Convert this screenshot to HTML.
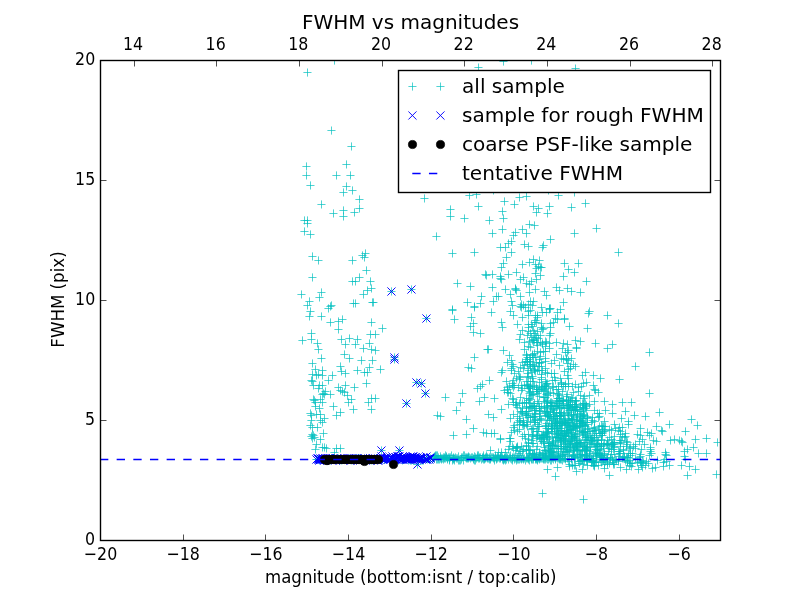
<!DOCTYPE html>
<html lang="en"><head><meta charset="utf-8"><title>FWHM vs magnitudes</title>
<style>html,body{margin:0;padding:0;background:#fff;overflow:hidden}svg{display:block}text{font-family:"DejaVu Sans","Liberation Sans",sans-serif;fill:#000}.t{font-size:16.67px}.l{font-size:20px}.c{stroke:#00bfbf;stroke-width:.69;fill:none}.b{stroke:#0000ff;stroke-width:.95;fill:none}.k{fill:#000;stroke:#000;stroke-width:.7}.tk{stroke:#000;stroke-width:.69;fill:none}</style></head><body>
<svg width="800" height="600" viewBox="0 0 800 600">
<rect width="800" height="600" fill="#fff"/>
<defs><clipPath id="ax"><rect x="100" y="60" width="621" height="481"/></clipPath></defs>
<g clip-path="url(#ax)">
<path class="c" d="M297.4 294.5h8.10M301.5 290.4v8.10M298.4 340.5h8.10M302.5 336.4v8.10M300.4 220.5h8.10M304.5 216.4v8.10M300.4 231.5h8.10M304.5 227.4v8.10M302.4 166.5h8.10M306.5 162.4v8.10M302.4 175.5h8.10M306.5 171.4v8.10M303.4 72.5h8.10M307.5 68.5v8.10M303.4 220.5h8.10M307.5 216.4v8.10M303.4 223.5h8.10M307.5 219.4v8.10M303.4 305.5h8.10M307.5 301.4v8.10M305.4 301.5h8.10M309.5 297.4v8.10M305.4 316.5h8.10M309.5 312.4v8.10M306.4 185.5h8.10M310.5 181.4v8.10M306.4 234.5h8.10M310.5 230.4v8.10M306.4 311.5h8.10M310.5 307.4v8.10M306.4 413.5h8.10M310.5 409.4v8.10M306.4 425.5h8.10M310.5 421.4v8.10M307.4 333.5h8.10M311.5 329.4v8.10M307.4 339.5h8.10M311.5 335.4v8.10M307.4 380.5h8.10M311.5 376.4v8.10M307.4 415.5h8.10M311.5 411.4v8.10M307.4 420.5h8.10M311.5 416.4v8.10M307.4 436.5h8.10M311.5 432.4v8.10M308.4 256.5h8.10M312.5 252.4v8.10M308.4 277.5h8.10M312.5 273.4v8.10M308.4 363.5h8.10M312.5 359.4v8.10M308.4 374.5h8.10M312.5 370.4v8.10M308.4 381.5h8.10M312.5 377.4v8.10M308.4 427.5h8.10M312.5 423.4v8.10M308.4 434.5h8.10M312.5 430.4v8.10M308.4 438.5h8.10M312.5 434.4v8.10M309.4 385.5h8.10M313.5 381.4v8.10M309.4 399.5h8.10M313.5 395.4v8.10M309.4 435.5h8.10M313.5 431.4v8.10M310.4 400.5h8.10M314.5 396.4v8.10M310.4 437.5h8.10M314.5 433.4v8.10M311.4 369.5h8.10M315.5 365.4v8.10M311.4 402.5h8.10M315.5 398.4v8.10M311.4 406.5h8.10M315.5 402.4v8.10M311.4 449.5h8.10M315.5 445.4v8.10M312.4 375.5h8.10M316.5 371.4v8.10M312.4 414.5h8.10M316.5 410.4v8.10M312.4 444.5h8.10M316.5 440.4v8.10M312.4 459.5h8.10M316.5 455.4v8.10M313.4 343.5h8.10M317.5 339.4v8.10M313.4 427.5h8.10M317.5 423.4v8.10M313.4 459.5h8.10M317.5 455.4v8.10M314.4 260.5h8.10M318.5 256.4v8.10M314.4 349.5h8.10M318.5 345.4v8.10M314.4 374.5h8.10M318.5 370.4v8.10M314.4 388.5h8.10M318.5 384.4v8.10M315.4 297.5h8.10M319.5 293.4v8.10M315.4 385.5h8.10M319.5 381.4v8.10M315.4 408.5h8.10M319.5 404.4v8.10M315.4 460.5h8.10M319.5 456.4v8.10M316.4 399.5h8.10M320.5 395.4v8.10M316.4 414.5h8.10M320.5 410.4v8.10M316.4 420.5h8.10M320.5 416.4v8.10M316.4 439.5h8.10M320.5 435.4v8.10M316.4 459.5h8.10M320.5 455.4v8.10M317.4 204.5h8.10M321.5 200.4v8.10M317.4 292.5h8.10M321.5 288.4v8.10M317.4 316.5h8.10M321.5 312.4v8.10M317.4 358.5h8.10M321.5 354.4v8.10M317.4 459.5h8.10M321.5 455.4v8.10M318.4 370.5h8.10M322.5 366.4v8.10M318.4 375.5h8.10M322.5 371.4v8.10M318.4 385.5h8.10M322.5 381.4v8.10M318.4 394.5h8.10M322.5 390.4v8.10M318.4 402.5h8.10M322.5 398.4v8.10M318.4 422.5h8.10M322.5 418.4v8.10M318.4 447.5h8.10M322.5 443.4v8.10M319.4 393.5h8.10M323.5 389.4v8.10M319.4 433.5h8.10M323.5 429.4v8.10M319.4 459.5h8.10M323.5 455.4v8.10M320.4 394.5h8.10M324.5 390.4v8.10M320.4 418.5h8.10M324.5 414.4v8.10M320.4 447.5h8.10M324.5 443.4v8.10M320.4 459.5h8.10M324.5 455.4v8.10M321.4 391.5h8.10M325.5 387.4v8.10M322.4 448.5h8.10M326.5 444.4v8.10M322.4 459.5h8.10M326.5 455.4v8.10M323.4 459.5h8.10M327.5 455.4v8.10M324.4 308.5h8.10M328.5 304.4v8.10M324.4 380.5h8.10M328.5 376.4v8.10M325.4 459.5h8.10M329.5 455.4v8.10M326.4 306.5h8.10M330.5 302.4v8.10M326.4 322.5h8.10M330.5 318.4v8.10M326.4 394.5h8.10M330.5 390.4v8.10M326.4 460.5h8.10M330.5 456.4v8.10M327.4 130.5h8.10M331.5 126.5v8.10M327.4 305.5h8.10M331.5 301.4v8.10M327.4 458.5h8.10M331.5 454.4v8.10M328.4 375.5h8.10M332.5 371.4v8.10M328.4 458.5h8.10M332.5 454.4v8.10M329.4 213.5h8.10M333.5 209.4v8.10M329.4 406.5h8.10M333.5 402.4v8.10M329.4 458.5h8.10M333.5 454.4v8.10M330.4 60.5h8.10M334.5 56.5v8.10M330.4 452.5h8.10M334.5 448.4v8.10M330.4 459.5h8.10M334.5 455.4v8.10M332.4 175.5h8.10M336.5 171.4v8.10M332.4 415.5h8.10M336.5 411.4v8.10M332.4 448.5h8.10M336.5 444.4v8.10M332.4 459.5h8.10M336.5 455.4v8.10M333.4 458.5h8.10M337.5 454.4v8.10M334.4 321.5h8.10M338.5 317.4v8.10M334.4 329.5h8.10M338.5 325.4v8.10M334.4 387.5h8.10M338.5 383.4v8.10M334.4 458.5h8.10M338.5 454.4v8.10M335.4 460.5h8.10M339.5 456.4v8.10M336.4 366.5h8.10M340.5 362.4v8.10M336.4 390.5h8.10M340.5 386.4v8.10M336.4 412.5h8.10M340.5 408.4v8.10M336.4 448.5h8.10M340.5 444.4v8.10M337.4 339.5h8.10M341.5 335.4v8.10M337.4 371.5h8.10M341.5 367.4v8.10M337.4 460.5h8.10M341.5 456.4v8.10M338.4 319.5h8.10M342.5 315.4v8.10M338.4 391.5h8.10M342.5 387.4v8.10M339.4 192.5h8.10M343.5 188.4v8.10M339.4 210.5h8.10M343.5 206.4v8.10M339.4 216.5h8.10M343.5 212.4v8.10M339.4 459.5h8.10M343.5 455.4v8.10M340.4 354.5h8.10M344.5 350.4v8.10M340.4 392.5h8.10M344.5 388.4v8.10M341.4 344.5h8.10M345.5 340.4v8.10M341.4 373.5h8.10M345.5 369.4v8.10M341.4 385.5h8.10M345.5 381.4v8.10M341.4 459.5h8.10M345.5 455.4v8.10M342.4 164.5h8.10M346.5 160.4v8.10M342.4 186.5h8.10M346.5 182.4v8.10M342.4 459.5h8.10M346.5 455.4v8.10M343.4 395.5h8.10M347.5 391.4v8.10M343.4 459.5h8.10M347.5 455.4v8.10M344.4 402.5h8.10M348.5 398.4v8.10M345.4 338.5h8.10M349.5 334.4v8.10M345.4 358.5h8.10M349.5 354.4v8.10M345.4 458.5h8.10M349.5 454.4v8.10M346.4 175.5h8.10M350.5 171.4v8.10M347.4 146.5h8.10M351.5 142.4v8.10M347.4 399.5h8.10M351.5 395.4v8.10M347.4 460.5h8.10M351.5 456.4v8.10M348.4 190.5h8.10M352.5 186.4v8.10M348.4 260.5h8.10M352.5 256.4v8.10M348.4 281.5h8.10M352.5 277.4v8.10M348.4 459.5h8.10M352.5 455.4v8.10M349.4 303.5h8.10M353.5 299.4v8.10M349.4 409.5h8.10M353.5 405.4v8.10M350.4 212.5h8.10M354.5 208.4v8.10M350.4 387.5h8.10M354.5 383.4v8.10M350.4 459.5h8.10M354.5 455.4v8.10M351.4 281.5h8.10M355.5 277.4v8.10M351.4 303.5h8.10M355.5 299.4v8.10M351.4 344.5h8.10M355.5 340.4v8.10M351.4 458.5h8.10M355.5 454.4v8.10M353.4 339.5h8.10M357.5 335.4v8.10M353.4 370.5h8.10M357.5 366.4v8.10M353.4 458.5h8.10M357.5 454.4v8.10M355.4 199.5h8.10M359.5 195.4v8.10M355.4 208.5h8.10M359.5 204.4v8.10M355.4 277.5h8.10M359.5 273.4v8.10M355.4 458.5h8.10M359.5 454.4v8.10M356.4 459.5h8.10M360.5 455.4v8.10M357.4 360.5h8.10M361.5 356.4v8.10M357.4 458.5h8.10M361.5 454.4v8.10M358.4 255.5h8.10M362.5 251.4v8.10M359.4 294.5h8.10M363.5 290.4v8.10M359.4 348.5h8.10M363.5 344.4v8.10M359.4 459.5h8.10M363.5 455.4v8.10M360.4 257.5h8.10M364.5 253.4v8.10M360.4 372.5h8.10M364.5 368.4v8.10M360.4 459.5h8.10M364.5 455.4v8.10M361.4 253.5h8.10M365.5 249.4v8.10M362.4 270.5h8.10M366.5 266.4v8.10M362.4 383.5h8.10M366.5 379.4v8.10M362.4 458.5h8.10M366.5 454.4v8.10M363.4 290.5h8.10M367.5 286.4v8.10M363.4 372.5h8.10M367.5 368.4v8.10M363.4 460.5h8.10M367.5 456.4v8.10M364.4 402.5h8.10M368.5 398.4v8.10M365.4 343.5h8.10M369.5 339.4v8.10M365.4 367.5h8.10M369.5 363.4v8.10M365.4 459.5h8.10M369.5 455.4v8.10M366.4 281.5h8.10M370.5 277.4v8.10M366.4 334.5h8.10M370.5 330.4v8.10M366.4 459.5h8.10M370.5 455.4v8.10M367.4 288.5h8.10M371.5 284.4v8.10M367.4 322.5h8.10M371.5 318.4v8.10M367.4 349.5h8.10M371.5 345.4v8.10M367.4 398.5h8.10M371.5 394.4v8.10M367.4 409.5h8.10M371.5 405.4v8.10M367.4 460.5h8.10M371.5 456.4v8.10M368.4 302.5h8.10M372.5 298.4v8.10M368.4 360.5h8.10M372.5 356.4v8.10M369.4 302.5h8.10M373.5 298.4v8.10M369.4 459.5h8.10M373.5 455.4v8.10M370.4 459.5h8.10M374.5 455.4v8.10M371.4 334.5h8.10M375.5 330.4v8.10M371.4 350.5h8.10M375.5 346.4v8.10M371.4 398.5h8.10M375.5 394.4v8.10M372.4 458.5h8.10M376.5 454.4v8.10M374.4 459.5h8.10M378.5 455.4v8.10M376.4 369.5h8.10M380.5 365.4v8.10M376.4 459.5h8.10M380.5 455.4v8.10M377.4 450.5h8.10M381.5 446.4v8.10M378.4 328.5h8.10M382.5 324.4v8.10M378.4 459.5h8.10M382.5 455.4v8.10M380.4 459.5h8.10M384.5 455.4v8.10M381.4 459.5h8.10M385.5 455.4v8.10M383.4 458.5h8.10M387.5 454.4v8.10M385.4 458.5h8.10M389.5 454.4v8.10M387.4 291.5h8.10M391.5 287.4v8.10M387.4 459.5h8.10M391.5 455.4v8.10M388.4 459.5h8.10M392.5 455.4v8.10M390.4 357.5h8.10M394.5 353.4v8.10M390.4 359.5h8.10M394.5 355.4v8.10M390.4 458.5h8.10M394.5 454.4v8.10M391.4 460.5h8.10M395.5 456.4v8.10M392.4 460.5h8.10M396.5 456.4v8.10M394.4 460.5h8.10M398.5 456.4v8.10M395.4 450.5h8.10M399.5 446.4v8.10M396.4 458.5h8.10M400.5 454.4v8.10M398.4 460.5h8.10M402.5 456.4v8.10M399.4 459.5h8.10M403.5 455.4v8.10M400.4 459.5h8.10M404.5 455.4v8.10M402.4 403.5h8.10M406.5 399.4v8.10M402.4 459.5h8.10M406.5 455.4v8.10M404.4 460.5h8.10M408.5 456.4v8.10M405.4 458.5h8.10M409.5 454.4v8.10M406.4 460.5h8.10M410.5 456.4v8.10M407.4 289.5h8.10M411.5 285.4v8.10M407.4 460.5h8.10M411.5 456.4v8.10M409.4 460.5h8.10M413.5 456.4v8.10M411.4 458.5h8.10M415.5 454.4v8.10M412.4 382.5h8.10M416.5 378.4v8.10M413.4 459.5h8.10M417.5 455.4v8.10M413.4 464.5h8.10M417.5 460.4v8.10M414.4 460.5h8.10M418.5 456.4v8.10M416.4 459.5h8.10M420.5 455.4v8.10M417.4 383.5h8.10M421.5 379.4v8.10M418.4 460.5h8.10M422.5 456.4v8.10M419.4 460.5h8.10M423.5 456.4v8.10M420.4 198.5h8.10M424.5 194.4v8.10M420.4 458.5h8.10M424.5 454.4v8.10M421.4 393.5h8.10M425.5 389.4v8.10M422.4 318.5h8.10M426.5 314.4v8.10M422.4 458.5h8.10M426.5 454.4v8.10M423.4 459.5h8.10M427.5 455.4v8.10M425.4 459.5h8.10M429.5 455.4v8.10M426.4 458.5h8.10M430.5 454.4v8.10M428.4 459.5h8.10M432.5 455.4v8.10M429.4 457.5h8.10M433.5 453.4v8.10M430.4 456.5h8.10M434.5 452.4v8.10M430.4 458.5h8.10M434.5 454.4v8.10M431.4 455.5h8.10M435.5 451.4v8.10M431.4 456.5h8.10M435.5 452.4v8.10M432.4 236.5h8.10M436.5 232.4v8.10M432.4 455.5h8.10M436.5 451.4v8.10M432.4 459.5h8.10M436.5 455.4v8.10M433.4 415.5h8.10M437.5 411.4v8.10M433.4 455.5h8.10M437.5 451.4v8.10M433.4 459.5h8.10M437.5 455.4v8.10M434.4 457.5h8.10M438.5 453.4v8.10M434.4 459.5h8.10M438.5 455.4v8.10M435.4 459.5h8.10M439.5 455.4v8.10M436.4 416.5h8.10M440.5 412.4v8.10M436.4 456.5h8.10M440.5 452.4v8.10M436.4 458.5h8.10M440.5 454.4v8.10M437.4 458.5h8.10M441.5 454.4v8.10M437.4 459.5h8.10M441.5 455.4v8.10M438.4 458.5h8.10M442.5 454.4v8.10M439.4 457.5h8.10M443.5 453.4v8.10M439.4 459.5h8.10M443.5 455.4v8.10M440.4 457.5h8.10M444.5 453.4v8.10M440.4 458.5h8.10M444.5 454.4v8.10M441.4 397.5h8.10M445.5 393.4v8.10M441.4 455.5h8.10M445.5 451.4v8.10M441.4 458.5h8.10M445.5 454.4v8.10M442.4 456.5h8.10M446.5 452.4v8.10M442.4 457.5h8.10M446.5 453.4v8.10M443.4 458.5h8.10M447.5 454.4v8.10M443.4 459.5h8.10M447.5 455.4v8.10M444.4 457.5h8.10M448.5 453.4v8.10M445.4 457.5h8.10M449.5 453.4v8.10M445.4 459.5h8.10M449.5 455.4v8.10M445.4 460.5h8.10M449.5 456.4v8.10M446.4 209.5h8.10M450.5 205.4v8.10M446.4 216.5h8.10M450.5 212.4v8.10M446.4 457.5h8.10M450.5 453.4v8.10M447.4 455.5h8.10M451.5 451.4v8.10M448.4 253.5h8.10M452.5 249.4v8.10M448.4 309.5h8.10M452.5 305.4v8.10M448.4 310.5h8.10M452.5 306.4v8.10M448.4 458.5h8.10M452.5 454.4v8.10M448.4 460.5h8.10M452.5 456.4v8.10M449.4 435.5h8.10M453.5 431.4v8.10M449.4 457.5h8.10M453.5 453.4v8.10M449.4 458.5h8.10M453.5 454.4v8.10M449.4 459.5h8.10M453.5 455.4v8.10M450.4 319.5h8.10M454.5 315.4v8.10M450.4 458.5h8.10M454.5 454.4v8.10M450.4 460.5h8.10M454.5 456.4v8.10M451.4 457.5h8.10M455.5 453.4v8.10M452.4 410.5h8.10M456.5 406.4v8.10M452.4 458.5h8.10M456.5 454.4v8.10M453.4 283.5h8.10M457.5 279.4v8.10M453.4 458.5h8.10M457.5 454.4v8.10M454.4 456.5h8.10M458.5 452.4v8.10M454.4 460.5h8.10M458.5 456.4v8.10M455.4 460.5h8.10M459.5 456.4v8.10M456.4 402.5h8.10M460.5 398.4v8.10M456.4 460.5h8.10M460.5 456.4v8.10M457.4 457.5h8.10M461.5 453.4v8.10M457.4 459.5h8.10M461.5 455.4v8.10M458.4 393.5h8.10M462.5 389.4v8.10M458.4 457.5h8.10M462.5 453.4v8.10M459.4 455.5h8.10M463.5 451.4v8.10M459.4 460.5h8.10M463.5 456.4v8.10M460.4 218.5h8.10M464.5 214.4v8.10M460.4 455.5h8.10M464.5 451.4v8.10M461.4 457.5h8.10M465.5 453.4v8.10M462.4 419.5h8.10M466.5 415.4v8.10M462.4 434.5h8.10M466.5 430.4v8.10M462.4 457.5h8.10M466.5 453.4v8.10M462.4 458.5h8.10M466.5 454.4v8.10M463.4 302.5h8.10M467.5 298.4v8.10M463.4 457.5h8.10M467.5 453.4v8.10M463.4 458.5h8.10M467.5 454.4v8.10M464.4 367.5h8.10M468.5 363.4v8.10M464.4 456.5h8.10M468.5 452.4v8.10M464.4 457.5h8.10M468.5 453.4v8.10M464.4 458.5h8.10M468.5 454.4v8.10M465.4 195.5h8.10M469.5 191.4v8.10M465.4 457.5h8.10M469.5 453.4v8.10M466.4 286.5h8.10M470.5 282.4v8.10M466.4 326.5h8.10M470.5 322.4v8.10M466.4 458.5h8.10M470.5 454.4v8.10M467.4 317.5h8.10M471.5 313.4v8.10M467.4 368.5h8.10M471.5 364.4v8.10M467.4 457.5h8.10M471.5 453.4v8.10M468.4 457.5h8.10M472.5 453.4v8.10M469.4 323.5h8.10M473.5 319.4v8.10M469.4 332.5h8.10M473.5 328.4v8.10M469.4 428.5h8.10M473.5 424.4v8.10M469.4 458.5h8.10M473.5 454.4v8.10M469.4 459.5h8.10M473.5 455.4v8.10M470.4 252.5h8.10M474.5 248.4v8.10M470.4 306.5h8.10M474.5 302.4v8.10M470.4 307.5h8.10M474.5 303.4v8.10M470.4 357.5h8.10M474.5 353.4v8.10M470.4 456.5h8.10M474.5 452.4v8.10M470.4 460.5h8.10M474.5 456.4v8.10M471.4 457.5h8.10M475.5 453.4v8.10M471.4 460.5h8.10M475.5 456.4v8.10M472.4 194.5h8.10M476.5 190.4v8.10M472.4 458.5h8.10M476.5 454.4v8.10M473.4 388.5h8.10M477.5 384.4v8.10M473.4 455.5h8.10M477.5 451.4v8.10M473.4 457.5h8.10M477.5 453.4v8.10M474.4 67.5h8.10M478.5 63.5v8.10M474.4 206.5h8.10M478.5 202.4v8.10M474.4 455.5h8.10M478.5 451.4v8.10M474.4 458.5h8.10M478.5 454.4v8.10M475.4 401.5h8.10M479.5 397.4v8.10M475.4 457.5h8.10M479.5 453.4v8.10M475.4 458.5h8.10M479.5 454.4v8.10M476.4 303.5h8.10M480.5 299.4v8.10M476.4 333.5h8.10M480.5 329.4v8.10M476.4 386.5h8.10M480.5 382.4v8.10M476.4 457.5h8.10M480.5 453.4v8.10M477.4 296.5h8.10M481.5 292.4v8.10M477.4 459.5h8.10M481.5 455.4v8.10M478.4 384.5h8.10M482.5 380.4v8.10M478.4 457.5h8.10M482.5 453.4v8.10M478.4 458.5h8.10M482.5 454.4v8.10M479.4 432.5h8.10M483.5 428.4v8.10M479.4 455.5h8.10M483.5 451.4v8.10M479.4 457.5h8.10M483.5 453.4v8.10M479.4 459.5h8.10M483.5 455.4v8.10M480.4 397.5h8.10M484.5 393.4v8.10M480.4 458.5h8.10M484.5 454.4v8.10M480.4 459.5h8.10M484.5 455.4v8.10M481.4 274.5h8.10M485.5 270.4v8.10M481.4 457.5h8.10M485.5 453.4v8.10M481.4 458.5h8.10M485.5 454.4v8.10M482.4 275.5h8.10M486.5 271.4v8.10M482.4 433.5h8.10M486.5 429.4v8.10M482.4 455.5h8.10M486.5 451.4v8.10M482.4 457.5h8.10M486.5 453.4v8.10M483.4 349.5h8.10M487.5 345.4v8.10M483.4 457.5h8.10M487.5 453.4v8.10M483.4 458.5h8.10M487.5 454.4v8.10M484.4 349.5h8.10M488.5 345.4v8.10M484.4 414.5h8.10M488.5 410.4v8.10M484.4 458.5h8.10M488.5 454.4v8.10M485.4 220.5h8.10M489.5 216.4v8.10M485.4 380.5h8.10M489.5 376.4v8.10M485.4 457.5h8.10M489.5 453.4v8.10M485.4 459.5h8.10M489.5 455.4v8.10M486.4 450.5h8.10M490.5 446.4v8.10M486.4 458.5h8.10M490.5 454.4v8.10M486.4 459.5h8.10M490.5 455.4v8.10M487.4 312.5h8.10M491.5 308.4v8.10M487.4 433.5h8.10M491.5 429.4v8.10M487.4 457.5h8.10M491.5 453.4v8.10M488.4 233.5h8.10M492.5 229.4v8.10M488.4 274.5h8.10M492.5 270.4v8.10M488.4 287.5h8.10M492.5 283.4v8.10M488.4 457.5h8.10M492.5 453.4v8.10M489.4 190.5h8.10M493.5 186.4v8.10M489.4 301.5h8.10M493.5 297.4v8.10M489.4 417.5h8.10M493.5 413.4v8.10M489.4 457.5h8.10M493.5 453.4v8.10M489.4 458.5h8.10M493.5 454.4v8.10M490.4 398.5h8.10M494.5 394.4v8.10M490.4 433.5h8.10M494.5 429.4v8.10M490.4 458.5h8.10M494.5 454.4v8.10M490.4 460.5h8.10M494.5 456.4v8.10M491.4 455.5h8.10M495.5 451.4v8.10M491.4 457.5h8.10M495.5 453.4v8.10M492.4 296.5h8.10M496.5 292.4v8.10M492.4 458.5h8.10M496.5 454.4v8.10M492.4 459.5h8.10M496.5 455.4v8.10M493.4 456.5h8.10M497.5 452.4v8.10M493.4 458.5h8.10M497.5 454.4v8.10M494.4 296.5h8.10M498.5 292.4v8.10M494.4 452.5h8.10M498.5 448.4v8.10M494.4 457.5h8.10M498.5 453.4v8.10M495.4 458.5h8.10M499.5 454.4v8.10M496.4 247.5h8.10M500.5 243.4v8.10M496.4 276.5h8.10M500.5 272.4v8.10M496.4 278.5h8.10M500.5 274.4v8.10M496.4 438.5h8.10M500.5 434.4v8.10M496.4 439.5h8.10M500.5 435.4v8.10M496.4 456.5h8.10M500.5 452.4v8.10M496.4 457.5h8.10M500.5 453.4v8.10M496.4 458.5h8.10M500.5 454.4v8.10M497.4 267.5h8.10M501.5 263.4v8.10M497.4 279.5h8.10M501.5 275.4v8.10M497.4 322.5h8.10M501.5 318.4v8.10M497.4 372.5h8.10M501.5 368.4v8.10M497.4 409.5h8.10M501.5 405.4v8.10M497.4 452.5h8.10M501.5 448.4v8.10M497.4 455.5h8.10M501.5 451.4v8.10M498.4 211.5h8.10M502.5 207.4v8.10M498.4 229.5h8.10M502.5 225.4v8.10M498.4 327.5h8.10M502.5 323.4v8.10M498.4 370.5h8.10M502.5 366.4v8.10M498.4 457.5h8.10M502.5 453.4v8.10M498.4 459.5h8.10M502.5 455.4v8.10M499.4 61.5h8.10M503.5 57.5v8.10M499.4 218.5h8.10M503.5 214.4v8.10M499.4 263.5h8.10M503.5 259.4v8.10M499.4 350.5h8.10M503.5 346.4v8.10M499.4 459.5h8.10M503.5 455.4v8.10M499.4 460.5h8.10M503.5 456.4v8.10M500.4 201.5h8.10M504.5 197.4v8.10M500.4 390.5h8.10M504.5 386.4v8.10M500.4 457.5h8.10M504.5 453.4v8.10M500.4 458.5h8.10M504.5 454.4v8.10M500.4 459.5h8.10M504.5 455.4v8.10M501.4 247.5h8.10M505.5 243.4v8.10M501.4 289.5h8.10M505.5 285.4v8.10M501.4 452.5h8.10M505.5 448.4v8.10M501.4 458.5h8.10M505.5 454.4v8.10M501.4 460.5h8.10M505.5 456.4v8.10M502.4 257.5h8.10M506.5 253.4v8.10M502.4 381.5h8.10M506.5 377.4v8.10M502.4 456.5h8.10M506.5 452.4v8.10M502.4 459.5h8.10M506.5 455.4v8.10M503.4 362.5h8.10M507.5 358.4v8.10M503.4 387.5h8.10M507.5 383.4v8.10M503.4 389.5h8.10M507.5 385.4v8.10M503.4 392.5h8.10M507.5 388.4v8.10M503.4 457.5h8.10M507.5 453.4v8.10M504.4 243.5h8.10M508.5 239.4v8.10M504.4 274.5h8.10M508.5 270.4v8.10M504.4 392.5h8.10M508.5 388.4v8.10M504.4 404.5h8.10M508.5 400.4v8.10M504.4 449.5h8.10M508.5 445.4v8.10M504.4 459.5h8.10M508.5 455.4v8.10M505.4 355.5h8.10M509.5 351.4v8.10M505.4 386.5h8.10M509.5 382.4v8.10M505.4 438.5h8.10M509.5 434.4v8.10M505.4 446.5h8.10M509.5 442.4v8.10M505.4 457.5h8.10M509.5 453.4v8.10M506.4 294.5h8.10M510.5 290.4v8.10M506.4 311.5h8.10M510.5 307.4v8.10M506.4 393.5h8.10M510.5 389.4v8.10M506.4 418.5h8.10M510.5 414.4v8.10M506.4 438.5h8.10M510.5 434.4v8.10M506.4 441.5h8.10M510.5 437.4v8.10M506.4 455.5h8.10M510.5 451.4v8.10M506.4 458.5h8.10M510.5 454.4v8.10M507.4 241.5h8.10M511.5 237.4v8.10M507.4 252.5h8.10M511.5 248.4v8.10M507.4 301.5h8.10M511.5 297.4v8.10M507.4 360.5h8.10M511.5 356.4v8.10M507.4 368.5h8.10M511.5 364.4v8.10M507.4 370.5h8.10M511.5 366.4v8.10M507.4 432.5h8.10M511.5 428.4v8.10M507.4 459.5h8.10M511.5 455.4v8.10M508.4 305.5h8.10M512.5 301.4v8.10M508.4 364.5h8.10M512.5 360.4v8.10M508.4 383.5h8.10M512.5 379.4v8.10M508.4 385.5h8.10M512.5 381.4v8.10M508.4 398.5h8.10M512.5 394.4v8.10M508.4 446.5h8.10M512.5 442.4v8.10M508.4 457.5h8.10M512.5 453.4v8.10M508.4 458.5h8.10M512.5 454.4v8.10M508.4 460.5h8.10M512.5 456.4v8.10M509.4 235.5h8.10M513.5 231.4v8.10M509.4 315.5h8.10M513.5 311.4v8.10M509.4 366.5h8.10M513.5 362.4v8.10M509.4 380.5h8.10M513.5 376.4v8.10M509.4 387.5h8.10M513.5 383.4v8.10M509.4 399.5h8.10M513.5 395.4v8.10M509.4 402.5h8.10M513.5 398.4v8.10M509.4 414.5h8.10M513.5 410.4v8.10M509.4 427.5h8.10M513.5 423.4v8.10M509.4 448.5h8.10M513.5 444.4v8.10M509.4 457.5h8.10M513.5 453.4v8.10M510.4 204.5h8.10M514.5 200.4v8.10M510.4 373.5h8.10M514.5 369.4v8.10M510.4 385.5h8.10M514.5 381.4v8.10M510.4 425.5h8.10M514.5 421.4v8.10M510.4 430.5h8.10M514.5 426.4v8.10M510.4 457.5h8.10M514.5 453.4v8.10M510.4 459.5h8.10M514.5 455.4v8.10M511.4 232.5h8.10M515.5 228.4v8.10M511.4 288.5h8.10M515.5 284.4v8.10M511.4 289.5h8.10M515.5 285.4v8.10M511.4 404.5h8.10M515.5 400.4v8.10M511.4 450.5h8.10M515.5 446.4v8.10M511.4 458.5h8.10M515.5 454.4v8.10M512.5 272.5h8.10M516.5 268.4v8.10M512.5 290.5h8.10M516.5 286.4v8.10M512.5 378.5h8.10M516.5 374.4v8.10M512.5 402.5h8.10M516.5 398.4v8.10M512.5 405.5h8.10M516.5 401.4v8.10M512.5 447.5h8.10M516.5 443.4v8.10M512.5 448.5h8.10M516.5 444.4v8.10M512.5 458.5h8.10M516.5 454.4v8.10M512.5 460.5h8.10M516.5 456.4v8.10M513.5 324.5h8.10M517.5 320.4v8.10M513.5 407.5h8.10M517.5 403.4v8.10M513.5 416.5h8.10M517.5 412.4v8.10M513.5 422.5h8.10M517.5 418.4v8.10M513.5 431.5h8.10M517.5 427.4v8.10M513.5 446.5h8.10M517.5 442.4v8.10M513.5 447.5h8.10M517.5 443.4v8.10M513.5 457.5h8.10M517.5 453.4v8.10M513.5 459.5h8.10M517.5 455.4v8.10M514.5 371.5h8.10M518.5 367.4v8.10M514.5 387.5h8.10M518.5 383.4v8.10M514.5 455.5h8.10M518.5 451.4v8.10M514.5 459.5h8.10M518.5 455.4v8.10M515.5 197.5h8.10M519.5 193.4v8.10M515.5 339.5h8.10M519.5 335.4v8.10M515.5 376.5h8.10M519.5 372.4v8.10M515.5 379.5h8.10M519.5 375.4v8.10M515.5 403.5h8.10M519.5 399.4v8.10M515.5 418.5h8.10M519.5 414.4v8.10M515.5 420.5h8.10M519.5 416.4v8.10M515.5 424.5h8.10M519.5 420.4v8.10M515.5 429.5h8.10M519.5 425.4v8.10M515.5 453.5h8.10M519.5 449.4v8.10M515.5 459.5h8.10M519.5 455.4v8.10M516.5 279.5h8.10M520.5 275.4v8.10M516.5 296.5h8.10M520.5 292.4v8.10M516.5 306.5h8.10M520.5 302.4v8.10M516.5 334.5h8.10M520.5 330.4v8.10M516.5 367.5h8.10M520.5 363.4v8.10M516.5 377.5h8.10M520.5 373.4v8.10M516.5 397.5h8.10M520.5 393.4v8.10M516.5 411.5h8.10M520.5 407.4v8.10M516.5 421.5h8.10M520.5 417.4v8.10M516.5 451.5h8.10M520.5 447.4v8.10M516.5 458.5h8.10M520.5 454.4v8.10M517.5 304.5h8.10M521.5 300.4v8.10M517.5 307.5h8.10M521.5 303.4v8.10M517.5 385.5h8.10M521.5 381.4v8.10M517.5 390.5h8.10M521.5 386.4v8.10M517.5 412.5h8.10M521.5 408.4v8.10M517.5 446.5h8.10M521.5 442.4v8.10M517.5 458.5h8.10M521.5 454.4v8.10M517.5 459.5h8.10M521.5 455.4v8.10M518.5 229.5h8.10M522.5 225.4v8.10M518.5 264.5h8.10M522.5 260.4v8.10M518.5 317.5h8.10M522.5 313.4v8.10M518.5 330.5h8.10M522.5 326.4v8.10M518.5 362.5h8.10M522.5 358.4v8.10M518.5 388.5h8.10M522.5 384.4v8.10M518.5 403.5h8.10M522.5 399.4v8.10M518.5 408.5h8.10M522.5 404.4v8.10M518.5 411.5h8.10M522.5 407.4v8.10M518.5 413.5h8.10M522.5 409.4v8.10M518.5 424.5h8.10M522.5 420.4v8.10M518.5 436.5h8.10M522.5 432.4v8.10M518.5 451.5h8.10M522.5 447.4v8.10M518.5 458.5h8.10M522.5 454.4v8.10M519.5 277.5h8.10M523.5 273.4v8.10M519.5 305.5h8.10M523.5 301.4v8.10M519.5 368.5h8.10M523.5 364.4v8.10M519.5 420.5h8.10M523.5 416.4v8.10M519.5 422.5h8.10M523.5 418.4v8.10M519.5 425.5h8.10M523.5 421.4v8.10M519.5 449.5h8.10M523.5 445.4v8.10M519.5 458.5h8.10M523.5 454.4v8.10M519.5 459.5h8.10M523.5 455.4v8.10M520.5 244.5h8.10M524.5 240.4v8.10M520.5 342.5h8.10M524.5 338.4v8.10M520.5 349.5h8.10M524.5 345.4v8.10M520.5 365.5h8.10M524.5 361.4v8.10M520.5 385.5h8.10M524.5 381.4v8.10M520.5 402.5h8.10M524.5 398.4v8.10M520.5 425.5h8.10M524.5 421.4v8.10M520.5 434.5h8.10M524.5 430.4v8.10M520.5 458.5h8.10M524.5 454.4v8.10M521.5 307.5h8.10M525.5 303.4v8.10M521.5 361.5h8.10M525.5 357.4v8.10M521.5 414.5h8.10M525.5 410.4v8.10M521.5 438.5h8.10M525.5 434.4v8.10M521.5 460.5h8.10M525.5 456.4v8.10M522.5 196.5h8.10M526.5 192.4v8.10M522.5 233.5h8.10M526.5 229.4v8.10M522.5 283.5h8.10M526.5 279.4v8.10M522.5 354.5h8.10M526.5 350.4v8.10M522.5 355.5h8.10M526.5 351.4v8.10M522.5 359.5h8.10M526.5 355.4v8.10M522.5 381.5h8.10M526.5 377.4v8.10M522.5 398.5h8.10M526.5 394.4v8.10M522.5 402.5h8.10M526.5 398.4v8.10M522.5 406.5h8.10M526.5 402.4v8.10M522.5 407.5h8.10M526.5 403.4v8.10M522.5 411.5h8.10M526.5 407.4v8.10M522.5 413.5h8.10M526.5 409.4v8.10M522.5 415.5h8.10M526.5 411.4v8.10M522.5 424.5h8.10M526.5 420.4v8.10M522.5 445.5h8.10M526.5 441.4v8.10M522.5 449.5h8.10M526.5 445.4v8.10M522.5 450.5h8.10M526.5 446.4v8.10M522.5 457.5h8.10M526.5 453.4v8.10M522.5 458.5h8.10M526.5 454.4v8.10M523.5 335.5h8.10M527.5 331.4v8.10M523.5 357.5h8.10M527.5 353.4v8.10M523.5 361.5h8.10M527.5 357.4v8.10M523.5 362.5h8.10M527.5 358.4v8.10M523.5 364.5h8.10M527.5 360.4v8.10M523.5 373.5h8.10M527.5 369.4v8.10M523.5 376.5h8.10M527.5 372.4v8.10M523.5 384.5h8.10M527.5 380.4v8.10M523.5 385.5h8.10M527.5 381.4v8.10M523.5 415.5h8.10M527.5 411.4v8.10M523.5 422.5h8.10M527.5 418.4v8.10M523.5 426.5h8.10M527.5 422.4v8.10M523.5 457.5h8.10M527.5 453.4v8.10M523.5 458.5h8.10M527.5 454.4v8.10M524.5 246.5h8.10M528.5 242.4v8.10M524.5 304.5h8.10M528.5 300.4v8.10M524.5 311.5h8.10M528.5 307.4v8.10M524.5 315.5h8.10M528.5 311.4v8.10M524.5 324.5h8.10M528.5 320.4v8.10M524.5 327.5h8.10M528.5 323.4v8.10M524.5 331.5h8.10M528.5 327.4v8.10M524.5 346.5h8.10M528.5 342.4v8.10M524.5 370.5h8.10M528.5 366.4v8.10M524.5 377.5h8.10M528.5 373.4v8.10M524.5 386.5h8.10M528.5 382.4v8.10M524.5 388.5h8.10M528.5 384.4v8.10M524.5 400.5h8.10M528.5 396.4v8.10M524.5 411.5h8.10M528.5 407.4v8.10M524.5 417.5h8.10M528.5 413.4v8.10M524.5 434.5h8.10M528.5 430.4v8.10M524.5 439.5h8.10M528.5 435.4v8.10M524.5 442.5h8.10M528.5 438.4v8.10M524.5 443.5h8.10M528.5 439.4v8.10M524.5 446.5h8.10M528.5 442.4v8.10M524.5 449.5h8.10M528.5 445.4v8.10M524.5 457.5h8.10M528.5 453.4v8.10M524.5 458.5h8.10M528.5 454.4v8.10M524.5 459.5h8.10M528.5 455.4v8.10M525.5 224.5h8.10M529.5 220.4v8.10M525.5 262.5h8.10M529.5 258.4v8.10M525.5 284.5h8.10M529.5 280.4v8.10M525.5 292.5h8.10M529.5 288.4v8.10M525.5 341.5h8.10M529.5 337.4v8.10M525.5 359.5h8.10M529.5 355.4v8.10M525.5 364.5h8.10M529.5 360.4v8.10M525.5 387.5h8.10M529.5 383.4v8.10M525.5 391.5h8.10M529.5 387.4v8.10M525.5 393.5h8.10M529.5 389.4v8.10M525.5 398.5h8.10M529.5 394.4v8.10M525.5 403.5h8.10M529.5 399.4v8.10M525.5 408.5h8.10M529.5 404.4v8.10M525.5 450.5h8.10M529.5 446.4v8.10M525.5 453.5h8.10M529.5 449.4v8.10M525.5 457.5h8.10M529.5 453.4v8.10M525.5 460.5h8.10M529.5 456.4v8.10M526.5 301.5h8.10M530.5 297.4v8.10M526.5 310.5h8.10M530.5 306.4v8.10M526.5 333.5h8.10M530.5 329.4v8.10M526.5 347.5h8.10M530.5 343.4v8.10M526.5 357.5h8.10M530.5 353.4v8.10M526.5 361.5h8.10M530.5 357.4v8.10M526.5 366.5h8.10M530.5 362.4v8.10M526.5 368.5h8.10M530.5 364.4v8.10M526.5 381.5h8.10M530.5 377.4v8.10M526.5 386.5h8.10M530.5 382.4v8.10M526.5 388.5h8.10M530.5 384.4v8.10M526.5 392.5h8.10M530.5 388.4v8.10M526.5 399.5h8.10M530.5 395.4v8.10M526.5 407.5h8.10M530.5 403.4v8.10M526.5 417.5h8.10M530.5 413.4v8.10M526.5 421.5h8.10M530.5 417.4v8.10M526.5 450.5h8.10M530.5 446.4v8.10M526.5 457.5h8.10M530.5 453.4v8.10M527.5 60.5h8.10M531.5 56.5v8.10M527.5 281.5h8.10M531.5 277.4v8.10M527.5 324.5h8.10M531.5 320.4v8.10M527.5 337.5h8.10M531.5 333.4v8.10M527.5 372.5h8.10M531.5 368.4v8.10M527.5 395.5h8.10M531.5 391.4v8.10M527.5 406.5h8.10M531.5 402.4v8.10M527.5 429.5h8.10M531.5 425.4v8.10M527.5 440.5h8.10M531.5 436.4v8.10M527.5 458.5h8.10M531.5 454.4v8.10M527.5 459.5h8.10M531.5 455.4v8.10M528.5 305.5h8.10M532.5 301.4v8.10M528.5 326.5h8.10M532.5 322.4v8.10M528.5 340.5h8.10M532.5 336.4v8.10M528.5 354.5h8.10M532.5 350.4v8.10M528.5 355.5h8.10M532.5 351.4v8.10M528.5 364.5h8.10M532.5 360.4v8.10M528.5 376.5h8.10M532.5 372.4v8.10M528.5 378.5h8.10M532.5 374.4v8.10M528.5 386.5h8.10M532.5 382.4v8.10M528.5 394.5h8.10M532.5 390.4v8.10M528.5 406.5h8.10M532.5 402.4v8.10M528.5 416.5h8.10M532.5 412.4v8.10M528.5 428.5h8.10M532.5 424.4v8.10M528.5 435.5h8.10M532.5 431.4v8.10M528.5 436.5h8.10M532.5 432.4v8.10M528.5 443.5h8.10M532.5 439.4v8.10M528.5 453.5h8.10M532.5 449.4v8.10M528.5 455.5h8.10M532.5 451.4v8.10M528.5 459.5h8.10M532.5 455.4v8.10M529.5 206.5h8.10M533.5 202.4v8.10M529.5 259.5h8.10M533.5 255.4v8.10M529.5 301.5h8.10M533.5 297.4v8.10M529.5 330.5h8.10M533.5 326.4v8.10M529.5 339.5h8.10M533.5 335.4v8.10M529.5 342.5h8.10M533.5 338.4v8.10M529.5 357.5h8.10M533.5 353.4v8.10M529.5 365.5h8.10M533.5 361.4v8.10M529.5 381.5h8.10M533.5 377.4v8.10M529.5 394.5h8.10M533.5 390.4v8.10M529.5 405.5h8.10M533.5 401.4v8.10M529.5 417.5h8.10M533.5 413.4v8.10M529.5 428.5h8.10M533.5 424.4v8.10M529.5 434.5h8.10M533.5 430.4v8.10M529.5 443.5h8.10M533.5 439.4v8.10M529.5 454.5h8.10M533.5 450.4v8.10M529.5 457.5h8.10M533.5 453.4v8.10M529.5 459.5h8.10M533.5 455.4v8.10M530.5 225.5h8.10M534.5 221.4v8.10M530.5 322.5h8.10M534.5 318.4v8.10M530.5 333.5h8.10M534.5 329.4v8.10M530.5 340.5h8.10M534.5 336.4v8.10M530.5 353.5h8.10M534.5 349.4v8.10M530.5 366.5h8.10M534.5 362.4v8.10M530.5 369.5h8.10M534.5 365.4v8.10M530.5 370.5h8.10M534.5 366.4v8.10M530.5 385.5h8.10M534.5 381.4v8.10M530.5 403.5h8.10M534.5 399.4v8.10M530.5 406.5h8.10M534.5 402.4v8.10M530.5 410.5h8.10M534.5 406.4v8.10M530.5 413.5h8.10M534.5 409.4v8.10M530.5 416.5h8.10M534.5 412.4v8.10M530.5 420.5h8.10M534.5 416.4v8.10M530.5 422.5h8.10M534.5 418.4v8.10M530.5 453.5h8.10M534.5 449.4v8.10M530.5 454.5h8.10M534.5 450.4v8.10M530.5 456.5h8.10M534.5 452.4v8.10M531.5 264.5h8.10M535.5 260.4v8.10M531.5 273.5h8.10M535.5 269.4v8.10M531.5 289.5h8.10M535.5 285.4v8.10M531.5 315.5h8.10M535.5 311.4v8.10M531.5 320.5h8.10M535.5 316.4v8.10M531.5 335.5h8.10M535.5 331.4v8.10M531.5 357.5h8.10M535.5 353.4v8.10M531.5 371.5h8.10M535.5 367.4v8.10M531.5 410.5h8.10M535.5 406.4v8.10M531.5 414.5h8.10M535.5 410.4v8.10M531.5 419.5h8.10M535.5 415.4v8.10M531.5 422.5h8.10M535.5 418.4v8.10M531.5 458.5h8.10M535.5 454.4v8.10M531.5 459.5h8.10M535.5 455.4v8.10M532.5 212.5h8.10M536.5 208.4v8.10M532.5 268.5h8.10M536.5 264.4v8.10M532.5 279.5h8.10M536.5 275.4v8.10M532.5 322.5h8.10M536.5 318.4v8.10M532.5 337.5h8.10M536.5 333.4v8.10M532.5 342.5h8.10M536.5 338.4v8.10M532.5 362.5h8.10M536.5 358.4v8.10M532.5 387.5h8.10M536.5 383.4v8.10M532.5 389.5h8.10M536.5 385.4v8.10M532.5 391.5h8.10M536.5 387.4v8.10M532.5 408.5h8.10M536.5 404.4v8.10M532.5 431.5h8.10M536.5 427.4v8.10M532.5 438.5h8.10M536.5 434.4v8.10M532.5 449.5h8.10M536.5 445.4v8.10M532.5 457.5h8.10M536.5 453.4v8.10M532.5 458.5h8.10M536.5 454.4v8.10M532.5 459.5h8.10M536.5 455.4v8.10M533.5 315.5h8.10M537.5 311.4v8.10M533.5 317.5h8.10M537.5 313.4v8.10M533.5 331.5h8.10M537.5 327.4v8.10M533.5 342.5h8.10M537.5 338.4v8.10M533.5 345.5h8.10M537.5 341.4v8.10M533.5 351.5h8.10M537.5 347.4v8.10M533.5 370.5h8.10M537.5 366.4v8.10M533.5 389.5h8.10M537.5 385.4v8.10M533.5 393.5h8.10M537.5 389.4v8.10M533.5 401.5h8.10M537.5 397.4v8.10M533.5 424.5h8.10M537.5 420.4v8.10M533.5 431.5h8.10M537.5 427.4v8.10M533.5 435.5h8.10M537.5 431.4v8.10M533.5 436.5h8.10M537.5 432.4v8.10M533.5 446.5h8.10M537.5 442.4v8.10M533.5 459.5h8.10M537.5 455.4v8.10M533.5 460.5h8.10M537.5 456.4v8.10M534.5 208.5h8.10M538.5 204.4v8.10M534.5 266.5h8.10M538.5 262.4v8.10M534.5 338.5h8.10M538.5 334.4v8.10M534.5 366.5h8.10M538.5 362.4v8.10M534.5 391.5h8.10M538.5 387.4v8.10M534.5 403.5h8.10M538.5 399.4v8.10M534.5 426.5h8.10M538.5 422.4v8.10M534.5 431.5h8.10M538.5 427.4v8.10M534.5 457.5h8.10M538.5 453.4v8.10M534.5 458.5h8.10M538.5 454.4v8.10M535.5 260.5h8.10M539.5 256.4v8.10M535.5 359.5h8.10M539.5 355.4v8.10M535.5 362.5h8.10M539.5 358.4v8.10M535.5 363.5h8.10M539.5 359.4v8.10M535.5 370.5h8.10M539.5 366.4v8.10M535.5 382.5h8.10M539.5 378.4v8.10M535.5 389.5h8.10M539.5 385.4v8.10M535.5 396.5h8.10M539.5 392.4v8.10M535.5 406.5h8.10M539.5 402.4v8.10M535.5 408.5h8.10M539.5 404.4v8.10M535.5 410.5h8.10M539.5 406.4v8.10M535.5 413.5h8.10M539.5 409.4v8.10M535.5 416.5h8.10M539.5 412.4v8.10M535.5 420.5h8.10M539.5 416.4v8.10M535.5 426.5h8.10M539.5 422.4v8.10M535.5 437.5h8.10M539.5 433.4v8.10M535.5 452.5h8.10M539.5 448.4v8.10M535.5 454.5h8.10M539.5 450.4v8.10M535.5 458.5h8.10M539.5 454.4v8.10M535.5 459.5h8.10M539.5 455.4v8.10M536.5 267.5h8.10M540.5 263.4v8.10M536.5 275.5h8.10M540.5 271.4v8.10M536.5 335.5h8.10M540.5 331.4v8.10M536.5 342.5h8.10M540.5 338.4v8.10M536.5 352.5h8.10M540.5 348.4v8.10M536.5 356.5h8.10M540.5 352.4v8.10M536.5 411.5h8.10M540.5 407.4v8.10M536.5 418.5h8.10M540.5 414.4v8.10M536.5 439.5h8.10M540.5 435.4v8.10M536.5 455.5h8.10M540.5 451.4v8.10M536.5 458.5h8.10M540.5 454.4v8.10M537.5 267.5h8.10M541.5 263.4v8.10M537.5 307.5h8.10M541.5 303.4v8.10M537.5 323.5h8.10M541.5 319.4v8.10M537.5 327.5h8.10M541.5 323.4v8.10M537.5 362.5h8.10M541.5 358.4v8.10M537.5 366.5h8.10M541.5 362.4v8.10M537.5 374.5h8.10M541.5 370.4v8.10M537.5 377.5h8.10M541.5 373.4v8.10M537.5 379.5h8.10M541.5 375.4v8.10M537.5 386.5h8.10M541.5 382.4v8.10M537.5 388.5h8.10M541.5 384.4v8.10M537.5 406.5h8.10M541.5 402.4v8.10M537.5 419.5h8.10M541.5 415.4v8.10M537.5 435.5h8.10M541.5 431.4v8.10M537.5 438.5h8.10M541.5 434.4v8.10M537.5 441.5h8.10M541.5 437.4v8.10M537.5 458.5h8.10M541.5 454.4v8.10M538.5 247.5h8.10M542.5 243.4v8.10M538.5 312.5h8.10M542.5 308.4v8.10M538.5 329.5h8.10M542.5 325.4v8.10M538.5 343.5h8.10M542.5 339.4v8.10M538.5 344.5h8.10M542.5 340.4v8.10M538.5 370.5h8.10M542.5 366.4v8.10M538.5 387.5h8.10M542.5 383.4v8.10M538.5 435.5h8.10M542.5 431.4v8.10M538.5 437.5h8.10M542.5 433.4v8.10M538.5 453.5h8.10M542.5 449.4v8.10M538.5 458.5h8.10M542.5 454.4v8.10M538.5 493.5h8.10M542.5 489.4v8.10M539.5 245.5h8.10M543.5 241.4v8.10M539.5 328.5h8.10M543.5 324.4v8.10M539.5 351.5h8.10M543.5 347.4v8.10M539.5 390.5h8.10M543.5 386.4v8.10M539.5 397.5h8.10M543.5 393.4v8.10M539.5 434.5h8.10M543.5 430.4v8.10M539.5 435.5h8.10M543.5 431.4v8.10M539.5 441.5h8.10M543.5 437.4v8.10M539.5 443.5h8.10M543.5 439.4v8.10M539.5 453.5h8.10M543.5 449.4v8.10M539.5 458.5h8.10M543.5 454.4v8.10M539.5 459.5h8.10M543.5 455.4v8.10M540.5 291.5h8.10M544.5 287.4v8.10M540.5 386.5h8.10M544.5 382.4v8.10M540.5 389.5h8.10M544.5 385.4v8.10M540.5 397.5h8.10M544.5 393.4v8.10M540.5 401.5h8.10M544.5 397.4v8.10M540.5 407.5h8.10M544.5 403.4v8.10M540.5 411.5h8.10M544.5 407.4v8.10M540.5 437.5h8.10M544.5 433.4v8.10M540.5 442.5h8.10M544.5 438.4v8.10M540.5 447.5h8.10M544.5 443.4v8.10M540.5 450.5h8.10M544.5 446.4v8.10M540.5 457.5h8.10M544.5 453.4v8.10M540.5 459.5h8.10M544.5 455.4v8.10M541.5 341.5h8.10M545.5 337.4v8.10M541.5 346.5h8.10M545.5 342.4v8.10M541.5 351.5h8.10M545.5 347.4v8.10M541.5 358.5h8.10M545.5 354.4v8.10M541.5 361.5h8.10M545.5 357.4v8.10M541.5 368.5h8.10M545.5 364.4v8.10M541.5 372.5h8.10M545.5 368.4v8.10M541.5 381.5h8.10M545.5 377.4v8.10M541.5 385.5h8.10M545.5 381.4v8.10M541.5 391.5h8.10M545.5 387.4v8.10M541.5 397.5h8.10M545.5 393.4v8.10M541.5 412.5h8.10M545.5 408.4v8.10M541.5 415.5h8.10M545.5 411.4v8.10M541.5 425.5h8.10M545.5 421.4v8.10M541.5 426.5h8.10M545.5 422.4v8.10M541.5 434.5h8.10M545.5 430.4v8.10M541.5 450.5h8.10M545.5 446.4v8.10M541.5 454.5h8.10M545.5 450.4v8.10M541.5 456.5h8.10M545.5 452.4v8.10M541.5 457.5h8.10M545.5 453.4v8.10M541.5 459.5h8.10M545.5 455.4v8.10M542.5 295.5h8.10M546.5 291.4v8.10M542.5 312.5h8.10M546.5 308.4v8.10M542.5 342.5h8.10M546.5 338.4v8.10M542.5 383.5h8.10M546.5 379.4v8.10M542.5 384.5h8.10M546.5 380.4v8.10M542.5 386.5h8.10M546.5 382.4v8.10M542.5 394.5h8.10M546.5 390.4v8.10M542.5 402.5h8.10M546.5 398.4v8.10M542.5 408.5h8.10M546.5 404.4v8.10M542.5 413.5h8.10M546.5 409.4v8.10M542.5 423.5h8.10M546.5 419.4v8.10M542.5 428.5h8.10M546.5 424.4v8.10M542.5 432.5h8.10M546.5 428.4v8.10M542.5 436.5h8.10M546.5 432.4v8.10M542.5 437.5h8.10M546.5 433.4v8.10M542.5 455.5h8.10M546.5 451.4v8.10M542.5 458.5h8.10M546.5 454.4v8.10M543.5 213.5h8.10M547.5 209.4v8.10M543.5 373.5h8.10M547.5 369.4v8.10M543.5 383.5h8.10M547.5 379.4v8.10M543.5 393.5h8.10M547.5 389.4v8.10M543.5 400.5h8.10M547.5 396.4v8.10M543.5 401.5h8.10M547.5 397.4v8.10M543.5 403.5h8.10M547.5 399.4v8.10M543.5 405.5h8.10M547.5 401.4v8.10M543.5 406.5h8.10M547.5 402.4v8.10M543.5 407.5h8.10M547.5 403.4v8.10M543.5 411.5h8.10M547.5 407.4v8.10M543.5 415.5h8.10M547.5 411.4v8.10M543.5 416.5h8.10M547.5 412.4v8.10M543.5 420.5h8.10M547.5 416.4v8.10M543.5 431.5h8.10M547.5 427.4v8.10M543.5 432.5h8.10M547.5 428.4v8.10M543.5 433.5h8.10M547.5 429.4v8.10M543.5 436.5h8.10M547.5 432.4v8.10M543.5 439.5h8.10M547.5 435.4v8.10M543.5 459.5h8.10M547.5 455.4v8.10M543.5 469.5h8.10M547.5 465.4v8.10M544.5 190.5h8.10M548.5 186.4v8.10M544.5 388.5h8.10M548.5 384.4v8.10M544.5 395.5h8.10M548.5 391.4v8.10M544.5 414.5h8.10M548.5 410.4v8.10M544.5 416.5h8.10M548.5 412.4v8.10M544.5 426.5h8.10M548.5 422.4v8.10M544.5 428.5h8.10M548.5 424.4v8.10M544.5 433.5h8.10M548.5 429.4v8.10M544.5 443.5h8.10M548.5 439.4v8.10M544.5 445.5h8.10M548.5 441.4v8.10M544.5 446.5h8.10M548.5 442.4v8.10M544.5 449.5h8.10M548.5 445.4v8.10M544.5 451.5h8.10M548.5 447.4v8.10M544.5 459.5h8.10M548.5 455.4v8.10M545.5 206.5h8.10M549.5 202.4v8.10M545.5 308.5h8.10M549.5 304.4v8.10M545.5 309.5h8.10M549.5 305.4v8.10M545.5 335.5h8.10M549.5 331.4v8.10M545.5 343.5h8.10M549.5 339.4v8.10M545.5 348.5h8.10M549.5 344.4v8.10M545.5 416.5h8.10M549.5 412.4v8.10M545.5 420.5h8.10M549.5 416.4v8.10M545.5 438.5h8.10M549.5 434.4v8.10M545.5 443.5h8.10M549.5 439.4v8.10M545.5 450.5h8.10M549.5 446.4v8.10M545.5 452.5h8.10M549.5 448.4v8.10M545.5 456.5h8.10M549.5 452.4v8.10M545.5 458.5h8.10M549.5 454.4v8.10M546.5 239.5h8.10M550.5 235.4v8.10M546.5 308.5h8.10M550.5 304.4v8.10M546.5 323.5h8.10M550.5 319.4v8.10M546.5 327.5h8.10M550.5 323.4v8.10M546.5 333.5h8.10M550.5 329.4v8.10M546.5 392.5h8.10M550.5 388.4v8.10M546.5 402.5h8.10M550.5 398.4v8.10M546.5 405.5h8.10M550.5 401.4v8.10M546.5 411.5h8.10M550.5 407.4v8.10M546.5 412.5h8.10M550.5 408.4v8.10M546.5 417.5h8.10M550.5 413.4v8.10M546.5 445.5h8.10M550.5 441.4v8.10M546.5 448.5h8.10M550.5 444.4v8.10M546.5 451.5h8.10M550.5 447.4v8.10M546.5 453.5h8.10M550.5 449.4v8.10M546.5 455.5h8.10M550.5 451.4v8.10M546.5 460.5h8.10M550.5 456.4v8.10M547.5 363.5h8.10M551.5 359.4v8.10M547.5 373.5h8.10M551.5 369.4v8.10M547.5 402.5h8.10M551.5 398.4v8.10M547.5 405.5h8.10M551.5 401.4v8.10M547.5 406.5h8.10M551.5 402.4v8.10M547.5 418.5h8.10M551.5 414.4v8.10M547.5 424.5h8.10M551.5 420.4v8.10M547.5 425.5h8.10M551.5 421.4v8.10M547.5 426.5h8.10M551.5 422.4v8.10M547.5 428.5h8.10M551.5 424.4v8.10M547.5 431.5h8.10M551.5 427.4v8.10M547.5 445.5h8.10M551.5 441.4v8.10M547.5 451.5h8.10M551.5 447.4v8.10M547.5 452.5h8.10M551.5 448.4v8.10M547.5 456.5h8.10M551.5 452.4v8.10M547.5 457.5h8.10M551.5 453.4v8.10M547.5 460.5h8.10M551.5 456.4v8.10M548.5 380.5h8.10M552.5 376.4v8.10M548.5 387.5h8.10M552.5 383.4v8.10M548.5 403.5h8.10M552.5 399.4v8.10M548.5 409.5h8.10M552.5 405.4v8.10M548.5 423.5h8.10M552.5 419.4v8.10M548.5 428.5h8.10M552.5 424.4v8.10M548.5 429.5h8.10M552.5 425.4v8.10M548.5 437.5h8.10M552.5 433.4v8.10M548.5 443.5h8.10M552.5 439.4v8.10M548.5 444.5h8.10M552.5 440.4v8.10M548.5 445.5h8.10M552.5 441.4v8.10M548.5 452.5h8.10M552.5 448.4v8.10M548.5 454.5h8.10M552.5 450.4v8.10M548.5 458.5h8.10M552.5 454.4v8.10M549.5 322.5h8.10M553.5 318.4v8.10M549.5 386.5h8.10M553.5 382.4v8.10M549.5 393.5h8.10M553.5 389.4v8.10M549.5 408.5h8.10M553.5 404.4v8.10M549.5 410.5h8.10M553.5 406.4v8.10M549.5 414.5h8.10M553.5 410.4v8.10M549.5 416.5h8.10M553.5 412.4v8.10M549.5 418.5h8.10M553.5 414.4v8.10M549.5 441.5h8.10M553.5 437.4v8.10M549.5 442.5h8.10M553.5 438.4v8.10M549.5 448.5h8.10M553.5 444.4v8.10M549.5 452.5h8.10M553.5 448.4v8.10M549.5 456.5h8.10M553.5 452.4v8.10M549.5 459.5h8.10M553.5 455.4v8.10M550.5 360.5h8.10M554.5 356.4v8.10M550.5 373.5h8.10M554.5 369.4v8.10M550.5 377.5h8.10M554.5 373.4v8.10M550.5 406.5h8.10M554.5 402.4v8.10M550.5 412.5h8.10M554.5 408.4v8.10M550.5 419.5h8.10M554.5 415.4v8.10M550.5 427.5h8.10M554.5 423.4v8.10M550.5 428.5h8.10M554.5 424.4v8.10M550.5 433.5h8.10M554.5 429.4v8.10M550.5 448.5h8.10M554.5 444.4v8.10M550.5 457.5h8.10M554.5 453.4v8.10M551.5 318.5h8.10M555.5 314.4v8.10M551.5 380.5h8.10M555.5 376.4v8.10M551.5 405.5h8.10M555.5 401.4v8.10M551.5 416.5h8.10M555.5 412.4v8.10M551.5 421.5h8.10M555.5 417.4v8.10M551.5 422.5h8.10M555.5 418.4v8.10M551.5 423.5h8.10M555.5 419.4v8.10M551.5 436.5h8.10M555.5 432.4v8.10M551.5 440.5h8.10M555.5 436.4v8.10M551.5 445.5h8.10M555.5 441.4v8.10M551.5 458.5h8.10M555.5 454.4v8.10M551.5 459.5h8.10M555.5 455.4v8.10M551.5 476.5h8.10M555.5 472.4v8.10M552.5 287.5h8.10M556.5 283.4v8.10M552.5 342.5h8.10M556.5 338.4v8.10M552.5 354.5h8.10M556.5 350.4v8.10M552.5 389.5h8.10M556.5 385.4v8.10M552.5 400.5h8.10M556.5 396.4v8.10M552.5 401.5h8.10M556.5 397.4v8.10M552.5 406.5h8.10M556.5 402.4v8.10M552.5 413.5h8.10M556.5 409.4v8.10M552.5 415.5h8.10M556.5 411.4v8.10M552.5 423.5h8.10M556.5 419.4v8.10M552.5 425.5h8.10M556.5 421.4v8.10M552.5 431.5h8.10M556.5 427.4v8.10M552.5 434.5h8.10M556.5 430.4v8.10M552.5 437.5h8.10M556.5 433.4v8.10M552.5 448.5h8.10M556.5 444.4v8.10M552.5 457.5h8.10M556.5 453.4v8.10M553.5 312.5h8.10M557.5 308.4v8.10M553.5 319.5h8.10M557.5 315.4v8.10M553.5 393.5h8.10M557.5 389.4v8.10M553.5 398.5h8.10M557.5 394.4v8.10M553.5 403.5h8.10M557.5 399.4v8.10M553.5 406.5h8.10M557.5 402.4v8.10M553.5 418.5h8.10M557.5 414.4v8.10M553.5 420.5h8.10M557.5 416.4v8.10M553.5 422.5h8.10M557.5 418.4v8.10M553.5 423.5h8.10M557.5 419.4v8.10M553.5 426.5h8.10M557.5 422.4v8.10M553.5 428.5h8.10M557.5 424.4v8.10M553.5 432.5h8.10M557.5 428.4v8.10M553.5 437.5h8.10M557.5 433.4v8.10M553.5 446.5h8.10M557.5 442.4v8.10M553.5 455.5h8.10M557.5 451.4v8.10M553.5 458.5h8.10M557.5 454.4v8.10M553.5 467.5h8.10M557.5 463.4v8.10M554.5 195.5h8.10M558.5 191.4v8.10M554.5 386.5h8.10M558.5 382.4v8.10M554.5 389.5h8.10M558.5 385.4v8.10M554.5 394.5h8.10M558.5 390.4v8.10M554.5 398.5h8.10M558.5 394.4v8.10M554.5 405.5h8.10M558.5 401.4v8.10M554.5 430.5h8.10M558.5 426.4v8.10M554.5 433.5h8.10M558.5 429.4v8.10M554.5 438.5h8.10M558.5 434.4v8.10M554.5 446.5h8.10M558.5 442.4v8.10M554.5 451.5h8.10M558.5 447.4v8.10M554.5 453.5h8.10M558.5 449.4v8.10M554.5 456.5h8.10M558.5 452.4v8.10M554.5 458.5h8.10M558.5 454.4v8.10M555.5 290.5h8.10M559.5 286.4v8.10M555.5 365.5h8.10M559.5 361.4v8.10M555.5 395.5h8.10M559.5 391.4v8.10M555.5 398.5h8.10M559.5 394.4v8.10M555.5 400.5h8.10M559.5 396.4v8.10M555.5 401.5h8.10M559.5 397.4v8.10M555.5 407.5h8.10M559.5 403.4v8.10M555.5 408.5h8.10M559.5 404.4v8.10M555.5 412.5h8.10M559.5 408.4v8.10M555.5 415.5h8.10M559.5 411.4v8.10M555.5 416.5h8.10M559.5 412.4v8.10M555.5 421.5h8.10M559.5 417.4v8.10M555.5 425.5h8.10M559.5 421.4v8.10M555.5 428.5h8.10M559.5 424.4v8.10M555.5 437.5h8.10M559.5 433.4v8.10M555.5 458.5h8.10M559.5 454.4v8.10M555.5 459.5h8.10M559.5 455.4v8.10M556.5 309.5h8.10M560.5 305.4v8.10M556.5 378.5h8.10M560.5 374.4v8.10M556.5 401.5h8.10M560.5 397.4v8.10M556.5 412.5h8.10M560.5 408.4v8.10M556.5 415.5h8.10M560.5 411.4v8.10M556.5 418.5h8.10M560.5 414.4v8.10M556.5 425.5h8.10M560.5 421.4v8.10M556.5 430.5h8.10M560.5 426.4v8.10M556.5 435.5h8.10M560.5 431.4v8.10M556.5 439.5h8.10M560.5 435.4v8.10M556.5 440.5h8.10M560.5 436.4v8.10M556.5 441.5h8.10M560.5 437.4v8.10M556.5 448.5h8.10M560.5 444.4v8.10M556.5 456.5h8.10M560.5 452.4v8.10M556.5 458.5h8.10M560.5 454.4v8.10M556.5 459.5h8.10M560.5 455.4v8.10M557.5 358.5h8.10M561.5 354.4v8.10M557.5 382.5h8.10M561.5 378.4v8.10M557.5 383.5h8.10M561.5 379.4v8.10M557.5 384.5h8.10M561.5 380.4v8.10M557.5 400.5h8.10M561.5 396.4v8.10M557.5 407.5h8.10M561.5 403.4v8.10M557.5 413.5h8.10M561.5 409.4v8.10M557.5 416.5h8.10M561.5 412.4v8.10M557.5 423.5h8.10M561.5 419.4v8.10M557.5 428.5h8.10M561.5 424.4v8.10M557.5 430.5h8.10M561.5 426.4v8.10M557.5 435.5h8.10M561.5 431.4v8.10M557.5 438.5h8.10M561.5 434.4v8.10M557.5 442.5h8.10M561.5 438.4v8.10M557.5 446.5h8.10M561.5 442.4v8.10M557.5 448.5h8.10M561.5 444.4v8.10M557.5 459.5h8.10M561.5 455.4v8.10M558.5 348.5h8.10M562.5 344.4v8.10M558.5 391.5h8.10M562.5 387.4v8.10M558.5 400.5h8.10M562.5 396.4v8.10M558.5 405.5h8.10M562.5 401.4v8.10M558.5 422.5h8.10M562.5 418.4v8.10M558.5 424.5h8.10M562.5 420.4v8.10M558.5 433.5h8.10M562.5 429.4v8.10M558.5 434.5h8.10M562.5 430.4v8.10M558.5 454.5h8.10M562.5 450.4v8.10M558.5 455.5h8.10M562.5 451.4v8.10M558.5 460.5h8.10M562.5 456.4v8.10M559.5 276.5h8.10M563.5 272.4v8.10M559.5 302.5h8.10M563.5 298.4v8.10M559.5 343.5h8.10M563.5 339.4v8.10M559.5 359.5h8.10M563.5 355.4v8.10M559.5 386.5h8.10M563.5 382.4v8.10M559.5 400.5h8.10M563.5 396.4v8.10M559.5 401.5h8.10M563.5 397.4v8.10M559.5 403.5h8.10M563.5 399.4v8.10M559.5 405.5h8.10M563.5 401.4v8.10M559.5 414.5h8.10M563.5 410.4v8.10M559.5 419.5h8.10M563.5 415.4v8.10M559.5 435.5h8.10M563.5 431.4v8.10M559.5 439.5h8.10M563.5 435.4v8.10M559.5 440.5h8.10M563.5 436.4v8.10M559.5 444.5h8.10M563.5 440.4v8.10M559.5 449.5h8.10M563.5 445.4v8.10M559.5 452.5h8.10M563.5 448.4v8.10M559.5 458.5h8.10M563.5 454.4v8.10M560.5 263.5h8.10M564.5 259.4v8.10M560.5 318.5h8.10M564.5 314.4v8.10M560.5 319.5h8.10M564.5 315.4v8.10M560.5 371.5h8.10M564.5 367.4v8.10M560.5 408.5h8.10M564.5 404.4v8.10M560.5 415.5h8.10M564.5 411.4v8.10M560.5 421.5h8.10M564.5 417.4v8.10M560.5 423.5h8.10M564.5 419.4v8.10M560.5 431.5h8.10M564.5 427.4v8.10M560.5 433.5h8.10M564.5 429.4v8.10M560.5 435.5h8.10M564.5 431.4v8.10M560.5 438.5h8.10M564.5 434.4v8.10M560.5 446.5h8.10M564.5 442.4v8.10M560.5 454.5h8.10M564.5 450.4v8.10M560.5 458.5h8.10M564.5 454.4v8.10M561.5 352.5h8.10M565.5 348.4v8.10M561.5 384.5h8.10M565.5 380.4v8.10M561.5 386.5h8.10M565.5 382.4v8.10M561.5 420.5h8.10M565.5 416.4v8.10M561.5 422.5h8.10M565.5 418.4v8.10M561.5 424.5h8.10M565.5 420.4v8.10M561.5 435.5h8.10M565.5 431.4v8.10M561.5 436.5h8.10M565.5 432.4v8.10M561.5 440.5h8.10M565.5 436.4v8.10M561.5 441.5h8.10M565.5 437.4v8.10M561.5 443.5h8.10M565.5 439.4v8.10M561.5 446.5h8.10M565.5 442.4v8.10M561.5 451.5h8.10M565.5 447.4v8.10M561.5 458.5h8.10M565.5 454.4v8.10M561.5 459.5h8.10M565.5 455.4v8.10M562.5 358.5h8.10M566.5 354.4v8.10M562.5 359.5h8.10M566.5 355.4v8.10M562.5 396.5h8.10M566.5 392.4v8.10M562.5 399.5h8.10M566.5 395.4v8.10M562.5 400.5h8.10M566.5 396.4v8.10M562.5 408.5h8.10M566.5 404.4v8.10M562.5 423.5h8.10M566.5 419.4v8.10M562.5 430.5h8.10M566.5 426.4v8.10M562.5 431.5h8.10M566.5 427.4v8.10M562.5 433.5h8.10M566.5 429.4v8.10M562.5 436.5h8.10M566.5 432.4v8.10M562.5 447.5h8.10M566.5 443.4v8.10M562.5 451.5h8.10M566.5 447.4v8.10M563.5 288.5h8.10M567.5 284.4v8.10M563.5 344.5h8.10M567.5 340.4v8.10M563.5 352.5h8.10M567.5 348.4v8.10M563.5 363.5h8.10M567.5 359.4v8.10M563.5 375.5h8.10M567.5 371.4v8.10M563.5 394.5h8.10M567.5 390.4v8.10M563.5 405.5h8.10M567.5 401.4v8.10M563.5 407.5h8.10M567.5 403.4v8.10M563.5 413.5h8.10M567.5 409.4v8.10M563.5 422.5h8.10M567.5 418.4v8.10M563.5 425.5h8.10M567.5 421.4v8.10M563.5 430.5h8.10M567.5 426.4v8.10M563.5 432.5h8.10M567.5 428.4v8.10M563.5 442.5h8.10M567.5 438.4v8.10M563.5 449.5h8.10M567.5 445.4v8.10M563.5 451.5h8.10M567.5 447.4v8.10M563.5 458.5h8.10M567.5 454.4v8.10M564.5 269.5h8.10M568.5 265.4v8.10M564.5 350.5h8.10M568.5 346.4v8.10M564.5 360.5h8.10M568.5 356.4v8.10M564.5 369.5h8.10M568.5 365.4v8.10M564.5 378.5h8.10M568.5 374.4v8.10M564.5 383.5h8.10M568.5 379.4v8.10M564.5 386.5h8.10M568.5 382.4v8.10M564.5 400.5h8.10M568.5 396.4v8.10M564.5 401.5h8.10M568.5 397.4v8.10M564.5 404.5h8.10M568.5 400.4v8.10M564.5 406.5h8.10M568.5 402.4v8.10M564.5 412.5h8.10M568.5 408.4v8.10M564.5 415.5h8.10M568.5 411.4v8.10M564.5 418.5h8.10M568.5 414.4v8.10M564.5 425.5h8.10M568.5 421.4v8.10M564.5 427.5h8.10M568.5 423.4v8.10M564.5 433.5h8.10M568.5 429.4v8.10M564.5 436.5h8.10M568.5 432.4v8.10M564.5 444.5h8.10M568.5 440.4v8.10M564.5 452.5h8.10M568.5 448.4v8.10M564.5 461.5h8.10M568.5 457.4v8.10M565.5 326.5h8.10M569.5 322.4v8.10M565.5 405.5h8.10M569.5 401.4v8.10M565.5 410.5h8.10M569.5 406.4v8.10M565.5 420.5h8.10M569.5 416.4v8.10M565.5 426.5h8.10M569.5 422.4v8.10M565.5 429.5h8.10M569.5 425.4v8.10M565.5 441.5h8.10M569.5 437.4v8.10M565.5 446.5h8.10M569.5 442.4v8.10M565.5 450.5h8.10M569.5 446.4v8.10M565.5 456.5h8.10M569.5 452.4v8.10M565.5 464.5h8.10M569.5 460.4v8.10M565.5 466.5h8.10M569.5 462.4v8.10M566.5 366.5h8.10M570.5 362.4v8.10M566.5 368.5h8.10M570.5 364.4v8.10M566.5 400.5h8.10M570.5 396.4v8.10M566.5 402.5h8.10M570.5 398.4v8.10M566.5 404.5h8.10M570.5 400.4v8.10M566.5 408.5h8.10M570.5 404.4v8.10M566.5 422.5h8.10M570.5 418.4v8.10M566.5 429.5h8.10M570.5 425.4v8.10M566.5 430.5h8.10M570.5 426.4v8.10M566.5 441.5h8.10M570.5 437.4v8.10M566.5 443.5h8.10M570.5 439.4v8.10M566.5 445.5h8.10M570.5 441.4v8.10M566.5 447.5h8.10M570.5 443.4v8.10M567.5 207.5h8.10M571.5 203.4v8.10M567.5 291.5h8.10M571.5 287.4v8.10M567.5 358.5h8.10M571.5 354.4v8.10M567.5 397.5h8.10M571.5 393.4v8.10M567.5 409.5h8.10M571.5 405.4v8.10M567.5 414.5h8.10M571.5 410.4v8.10M567.5 415.5h8.10M571.5 411.4v8.10M567.5 418.5h8.10M571.5 414.4v8.10M567.5 419.5h8.10M571.5 415.4v8.10M567.5 429.5h8.10M571.5 425.4v8.10M567.5 432.5h8.10M571.5 428.4v8.10M567.5 434.5h8.10M571.5 430.4v8.10M567.5 435.5h8.10M571.5 431.4v8.10M567.5 439.5h8.10M571.5 435.4v8.10M567.5 440.5h8.10M571.5 436.4v8.10M567.5 458.5h8.10M571.5 454.4v8.10M567.5 459.5h8.10M571.5 455.4v8.10M568.5 386.5h8.10M572.5 382.4v8.10M568.5 398.5h8.10M572.5 394.4v8.10M568.5 406.5h8.10M572.5 402.4v8.10M568.5 407.5h8.10M572.5 403.4v8.10M568.5 419.5h8.10M572.5 415.4v8.10M568.5 420.5h8.10M572.5 416.4v8.10M568.5 424.5h8.10M572.5 420.4v8.10M568.5 430.5h8.10M572.5 426.4v8.10M568.5 437.5h8.10M572.5 433.4v8.10M568.5 438.5h8.10M572.5 434.4v8.10M568.5 444.5h8.10M572.5 440.4v8.10M568.5 455.5h8.10M572.5 451.4v8.10M568.5 465.5h8.10M572.5 461.4v8.10M569.5 364.5h8.10M573.5 360.4v8.10M569.5 392.5h8.10M573.5 388.4v8.10M569.5 410.5h8.10M573.5 406.4v8.10M569.5 414.5h8.10M573.5 410.4v8.10M569.5 416.5h8.10M573.5 412.4v8.10M569.5 425.5h8.10M573.5 421.4v8.10M569.5 426.5h8.10M573.5 422.4v8.10M569.5 428.5h8.10M573.5 424.4v8.10M569.5 436.5h8.10M573.5 432.4v8.10M569.5 447.5h8.10M573.5 443.4v8.10M569.5 450.5h8.10M573.5 446.4v8.10M569.5 451.5h8.10M573.5 447.4v8.10M569.5 454.5h8.10M573.5 450.4v8.10M569.5 455.5h8.10M573.5 451.4v8.10M570.5 192.5h8.10M574.5 188.4v8.10M570.5 233.5h8.10M574.5 229.4v8.10M570.5 272.5h8.10M574.5 268.4v8.10M570.5 404.5h8.10M574.5 400.4v8.10M570.5 406.5h8.10M574.5 402.4v8.10M570.5 410.5h8.10M574.5 406.4v8.10M570.5 423.5h8.10M574.5 419.4v8.10M570.5 426.5h8.10M574.5 422.4v8.10M570.5 436.5h8.10M574.5 432.4v8.10M570.5 437.5h8.10M574.5 433.4v8.10M570.5 438.5h8.10M574.5 434.4v8.10M570.5 448.5h8.10M574.5 444.4v8.10M570.5 449.5h8.10M574.5 445.4v8.10M570.5 456.5h8.10M574.5 452.4v8.10M570.5 458.5h8.10M574.5 454.4v8.10M570.5 465.5h8.10M574.5 461.4v8.10M571.5 68.5h8.10M575.5 64.5v8.10M571.5 340.5h8.10M575.5 336.4v8.10M571.5 366.5h8.10M575.5 362.4v8.10M571.5 384.5h8.10M575.5 380.4v8.10M571.5 400.5h8.10M575.5 396.4v8.10M571.5 401.5h8.10M575.5 397.4v8.10M571.5 407.5h8.10M575.5 403.4v8.10M571.5 409.5h8.10M575.5 405.4v8.10M571.5 410.5h8.10M575.5 406.4v8.10M571.5 426.5h8.10M575.5 422.4v8.10M571.5 428.5h8.10M575.5 424.4v8.10M571.5 434.5h8.10M575.5 430.4v8.10M571.5 436.5h8.10M575.5 432.4v8.10M571.5 443.5h8.10M575.5 439.4v8.10M571.5 446.5h8.10M575.5 442.4v8.10M571.5 457.5h8.10M575.5 453.4v8.10M571.5 465.5h8.10M575.5 461.4v8.10M572.5 347.5h8.10M576.5 343.4v8.10M572.5 348.5h8.10M576.5 344.4v8.10M572.5 400.5h8.10M576.5 396.4v8.10M572.5 404.5h8.10M576.5 400.4v8.10M572.5 406.5h8.10M576.5 402.4v8.10M572.5 407.5h8.10M576.5 403.4v8.10M572.5 417.5h8.10M576.5 413.4v8.10M572.5 419.5h8.10M576.5 415.4v8.10M572.5 425.5h8.10M576.5 421.4v8.10M572.5 427.5h8.10M576.5 423.4v8.10M572.5 436.5h8.10M576.5 432.4v8.10M572.5 440.5h8.10M576.5 436.4v8.10M572.5 443.5h8.10M576.5 439.4v8.10M572.5 444.5h8.10M576.5 440.4v8.10M572.5 445.5h8.10M576.5 441.4v8.10M572.5 446.5h8.10M576.5 442.4v8.10M572.5 450.5h8.10M576.5 446.4v8.10M572.5 471.5h8.10M576.5 467.4v8.10M573.5 409.5h8.10M577.5 405.4v8.10M573.5 414.5h8.10M577.5 410.4v8.10M573.5 415.5h8.10M577.5 411.4v8.10M573.5 421.5h8.10M577.5 417.4v8.10M573.5 427.5h8.10M577.5 423.4v8.10M573.5 433.5h8.10M577.5 429.4v8.10M573.5 442.5h8.10M577.5 438.4v8.10M573.5 443.5h8.10M577.5 439.4v8.10M573.5 447.5h8.10M577.5 443.4v8.10M573.5 449.5h8.10M577.5 445.4v8.10M573.5 450.5h8.10M577.5 446.4v8.10M573.5 457.5h8.10M577.5 453.4v8.10M574.5 263.5h8.10M578.5 259.4v8.10M574.5 387.5h8.10M578.5 383.4v8.10M574.5 391.5h8.10M578.5 387.4v8.10M574.5 442.5h8.10M578.5 438.4v8.10M574.5 450.5h8.10M578.5 446.4v8.10M574.5 461.5h8.10M578.5 457.4v8.10M575.5 411.5h8.10M579.5 407.4v8.10M575.5 420.5h8.10M579.5 416.4v8.10M575.5 421.5h8.10M579.5 417.4v8.10M575.5 425.5h8.10M579.5 421.4v8.10M575.5 426.5h8.10M579.5 422.4v8.10M575.5 431.5h8.10M579.5 427.4v8.10M575.5 440.5h8.10M579.5 436.4v8.10M575.5 442.5h8.10M579.5 438.4v8.10M575.5 450.5h8.10M579.5 446.4v8.10M575.5 456.5h8.10M579.5 452.4v8.10M575.5 463.5h8.10M579.5 459.4v8.10M576.5 292.5h8.10M580.5 288.4v8.10M576.5 341.5h8.10M580.5 337.4v8.10M576.5 395.5h8.10M580.5 391.4v8.10M576.5 405.5h8.10M580.5 401.4v8.10M576.5 413.5h8.10M580.5 409.4v8.10M576.5 416.5h8.10M580.5 412.4v8.10M576.5 420.5h8.10M580.5 416.4v8.10M576.5 423.5h8.10M580.5 419.4v8.10M576.5 426.5h8.10M580.5 422.4v8.10M576.5 442.5h8.10M580.5 438.4v8.10M576.5 444.5h8.10M580.5 440.4v8.10M576.5 454.5h8.10M580.5 450.4v8.10M576.5 455.5h8.10M580.5 451.4v8.10M576.5 461.5h8.10M580.5 457.4v8.10M577.5 386.5h8.10M581.5 382.4v8.10M577.5 411.5h8.10M581.5 407.4v8.10M577.5 420.5h8.10M581.5 416.4v8.10M577.5 421.5h8.10M581.5 417.4v8.10M577.5 430.5h8.10M581.5 426.4v8.10M577.5 443.5h8.10M581.5 439.4v8.10M577.5 454.5h8.10M581.5 450.4v8.10M577.5 460.5h8.10M581.5 456.4v8.10M578.5 375.5h8.10M582.5 371.4v8.10M578.5 403.5h8.10M582.5 399.4v8.10M578.5 407.5h8.10M582.5 403.4v8.10M578.5 416.5h8.10M582.5 412.4v8.10M578.5 418.5h8.10M582.5 414.4v8.10M578.5 422.5h8.10M582.5 418.4v8.10M578.5 423.5h8.10M582.5 419.4v8.10M578.5 424.5h8.10M582.5 420.4v8.10M578.5 431.5h8.10M582.5 427.4v8.10M578.5 432.5h8.10M582.5 428.4v8.10M578.5 435.5h8.10M582.5 431.4v8.10M578.5 446.5h8.10M582.5 442.4v8.10M578.5 450.5h8.10M582.5 446.4v8.10M578.5 451.5h8.10M582.5 447.4v8.10M578.5 459.5h8.10M582.5 455.4v8.10M578.5 460.5h8.10M582.5 456.4v8.10M578.5 469.5h8.10M582.5 465.4v8.10M579.5 383.5h8.10M583.5 379.4v8.10M579.5 398.5h8.10M583.5 394.4v8.10M579.5 404.5h8.10M583.5 400.4v8.10M579.5 407.5h8.10M583.5 403.4v8.10M579.5 408.5h8.10M583.5 404.4v8.10M579.5 409.5h8.10M583.5 405.4v8.10M579.5 414.5h8.10M583.5 410.4v8.10M579.5 415.5h8.10M583.5 411.4v8.10M579.5 418.5h8.10M583.5 414.4v8.10M579.5 425.5h8.10M583.5 421.4v8.10M579.5 432.5h8.10M583.5 428.4v8.10M579.5 434.5h8.10M583.5 430.4v8.10M579.5 445.5h8.10M583.5 441.4v8.10M579.5 464.5h8.10M583.5 460.4v8.10M579.5 499.5h8.10M583.5 495.4v8.10M580.5 396.5h8.10M584.5 392.4v8.10M580.5 403.5h8.10M584.5 399.4v8.10M580.5 415.5h8.10M584.5 411.4v8.10M580.5 425.5h8.10M584.5 421.4v8.10M580.5 432.5h8.10M584.5 428.4v8.10M580.5 442.5h8.10M584.5 438.4v8.10M580.5 446.5h8.10M584.5 442.4v8.10M580.5 449.5h8.10M584.5 445.4v8.10M580.5 455.5h8.10M584.5 451.4v8.10M580.5 460.5h8.10M584.5 456.4v8.10M581.5 203.5h8.10M585.5 199.4v8.10M581.5 372.5h8.10M585.5 368.4v8.10M581.5 403.5h8.10M585.5 399.4v8.10M581.5 408.5h8.10M585.5 404.4v8.10M581.5 422.5h8.10M585.5 418.4v8.10M581.5 426.5h8.10M585.5 422.4v8.10M581.5 431.5h8.10M585.5 427.4v8.10M581.5 437.5h8.10M585.5 433.4v8.10M581.5 439.5h8.10M585.5 435.4v8.10M581.5 447.5h8.10M585.5 443.4v8.10M581.5 450.5h8.10M585.5 446.4v8.10M581.5 455.5h8.10M585.5 451.4v8.10M582.5 281.5h8.10M586.5 277.4v8.10M582.5 382.5h8.10M586.5 378.4v8.10M582.5 405.5h8.10M586.5 401.4v8.10M582.5 406.5h8.10M586.5 402.4v8.10M582.5 410.5h8.10M586.5 406.4v8.10M582.5 422.5h8.10M586.5 418.4v8.10M582.5 437.5h8.10M586.5 433.4v8.10M582.5 440.5h8.10M586.5 436.4v8.10M582.5 448.5h8.10M586.5 444.4v8.10M582.5 449.5h8.10M586.5 445.4v8.10M582.5 450.5h8.10M586.5 446.4v8.10M582.5 454.5h8.10M586.5 450.4v8.10M582.5 456.5h8.10M586.5 452.4v8.10M582.5 458.5h8.10M586.5 454.4v8.10M582.5 460.5h8.10M586.5 456.4v8.10M583.5 328.5h8.10M587.5 324.4v8.10M583.5 416.5h8.10M587.5 412.4v8.10M583.5 417.5h8.10M587.5 413.4v8.10M583.5 418.5h8.10M587.5 414.4v8.10M583.5 424.5h8.10M587.5 420.4v8.10M583.5 429.5h8.10M587.5 425.4v8.10M583.5 433.5h8.10M587.5 429.4v8.10M583.5 436.5h8.10M587.5 432.4v8.10M583.5 442.5h8.10M587.5 438.4v8.10M583.5 446.5h8.10M587.5 442.4v8.10M583.5 450.5h8.10M587.5 446.4v8.10M583.5 457.5h8.10M587.5 453.4v8.10M583.5 461.5h8.10M587.5 457.4v8.10M583.5 465.5h8.10M587.5 461.4v8.10M584.5 313.5h8.10M588.5 309.4v8.10M584.5 428.5h8.10M588.5 424.4v8.10M584.5 437.5h8.10M588.5 433.4v8.10M585.5 311.5h8.10M589.5 307.4v8.10M585.5 395.5h8.10M589.5 391.4v8.10M585.5 404.5h8.10M589.5 400.4v8.10M585.5 431.5h8.10M589.5 427.4v8.10M585.5 444.5h8.10M589.5 440.4v8.10M585.5 453.5h8.10M589.5 449.4v8.10M585.5 455.5h8.10M589.5 451.4v8.10M585.5 456.5h8.10M589.5 452.4v8.10M585.5 458.5h8.10M589.5 454.4v8.10M586.5 435.5h8.10M590.5 431.4v8.10M586.5 440.5h8.10M590.5 436.4v8.10M586.5 447.5h8.10M590.5 443.4v8.10M586.5 451.5h8.10M590.5 447.4v8.10M587.5 422.5h8.10M591.5 418.4v8.10M587.5 438.5h8.10M591.5 434.4v8.10M587.5 440.5h8.10M591.5 436.4v8.10M587.5 443.5h8.10M591.5 439.4v8.10M587.5 458.5h8.10M591.5 454.4v8.10M587.5 461.5h8.10M591.5 457.4v8.10M587.5 462.5h8.10M591.5 458.4v8.10M588.5 417.5h8.10M592.5 413.4v8.10M588.5 420.5h8.10M592.5 416.4v8.10M588.5 431.5h8.10M592.5 427.4v8.10M588.5 439.5h8.10M592.5 435.4v8.10M588.5 441.5h8.10M592.5 437.4v8.10M588.5 460.5h8.10M592.5 456.4v8.10M588.5 461.5h8.10M592.5 457.4v8.10M589.5 375.5h8.10M593.5 371.4v8.10M589.5 385.5h8.10M593.5 381.4v8.10M589.5 430.5h8.10M593.5 426.4v8.10M589.5 440.5h8.10M593.5 436.4v8.10M589.5 458.5h8.10M593.5 454.4v8.10M589.5 460.5h8.10M593.5 456.4v8.10M589.5 462.5h8.10M593.5 458.4v8.10M589.5 465.5h8.10M593.5 461.4v8.10M590.5 389.5h8.10M594.5 385.4v8.10M590.5 401.5h8.10M594.5 397.4v8.10M590.5 410.5h8.10M594.5 406.4v8.10M590.5 421.5h8.10M594.5 417.4v8.10M590.5 427.5h8.10M594.5 423.4v8.10M590.5 428.5h8.10M594.5 424.4v8.10M590.5 435.5h8.10M594.5 431.4v8.10M590.5 437.5h8.10M594.5 433.4v8.10M590.5 444.5h8.10M594.5 440.4v8.10M590.5 462.5h8.10M594.5 458.4v8.10M590.5 465.5h8.10M594.5 461.4v8.10M590.5 466.5h8.10M594.5 462.4v8.10M591.5 343.5h8.10M595.5 339.4v8.10M591.5 390.5h8.10M595.5 386.4v8.10M591.5 430.5h8.10M595.5 426.4v8.10M591.5 446.5h8.10M595.5 442.4v8.10M591.5 449.5h8.10M595.5 445.4v8.10M591.5 452.5h8.10M595.5 448.4v8.10M591.5 453.5h8.10M595.5 449.4v8.10M591.5 462.5h8.10M595.5 458.4v8.10M592.5 228.5h8.10M596.5 224.4v8.10M592.5 433.5h8.10M596.5 429.4v8.10M592.5 437.5h8.10M596.5 433.4v8.10M592.5 445.5h8.10M596.5 441.4v8.10M592.5 446.5h8.10M596.5 442.4v8.10M592.5 454.5h8.10M596.5 450.4v8.10M592.5 455.5h8.10M596.5 451.4v8.10M592.5 456.5h8.10M596.5 452.4v8.10M592.5 461.5h8.10M596.5 457.4v8.10M593.5 413.5h8.10M597.5 409.4v8.10M593.5 440.5h8.10M597.5 436.4v8.10M593.5 443.5h8.10M597.5 439.4v8.10M593.5 444.5h8.10M597.5 440.4v8.10M593.5 449.5h8.10M597.5 445.4v8.10M593.5 450.5h8.10M597.5 446.4v8.10M593.5 453.5h8.10M597.5 449.4v8.10M594.5 392.5h8.10M598.5 388.4v8.10M594.5 417.5h8.10M598.5 413.4v8.10M594.5 429.5h8.10M598.5 425.4v8.10M594.5 440.5h8.10M598.5 436.4v8.10M594.5 450.5h8.10M598.5 446.4v8.10M594.5 465.5h8.10M598.5 461.4v8.10M595.5 413.5h8.10M599.5 409.4v8.10M595.5 416.5h8.10M599.5 412.4v8.10M595.5 426.5h8.10M599.5 422.4v8.10M595.5 433.5h8.10M599.5 429.4v8.10M595.5 446.5h8.10M599.5 442.4v8.10M595.5 453.5h8.10M599.5 449.4v8.10M595.5 454.5h8.10M599.5 450.4v8.10M595.5 457.5h8.10M599.5 453.4v8.10M596.5 378.5h8.10M600.5 374.4v8.10M596.5 433.5h8.10M600.5 429.4v8.10M596.5 449.5h8.10M600.5 445.4v8.10M596.5 455.5h8.10M600.5 451.4v8.10M596.5 459.5h8.10M600.5 455.4v8.10M597.5 425.5h8.10M601.5 421.4v8.10M597.5 435.5h8.10M601.5 431.4v8.10M597.5 439.5h8.10M601.5 435.4v8.10M597.5 440.5h8.10M601.5 436.4v8.10M597.5 443.5h8.10M601.5 439.4v8.10M597.5 444.5h8.10M601.5 440.4v8.10M597.5 446.5h8.10M601.5 442.4v8.10M597.5 455.5h8.10M601.5 451.4v8.10M597.5 456.5h8.10M601.5 452.4v8.10M597.5 457.5h8.10M601.5 453.4v8.10M597.5 462.5h8.10M601.5 458.4v8.10M598.5 426.5h8.10M602.5 422.4v8.10M598.5 429.5h8.10M602.5 425.4v8.10M598.5 431.5h8.10M602.5 427.4v8.10M598.5 432.5h8.10M602.5 428.4v8.10M598.5 433.5h8.10M602.5 429.4v8.10M598.5 435.5h8.10M602.5 431.4v8.10M598.5 455.5h8.10M602.5 451.4v8.10M598.5 460.5h8.10M602.5 456.4v8.10M599.5 426.5h8.10M603.5 422.4v8.10M599.5 445.5h8.10M603.5 441.4v8.10M599.5 448.5h8.10M603.5 444.4v8.10M599.5 459.5h8.10M603.5 455.4v8.10M599.5 460.5h8.10M603.5 456.4v8.10M600.5 401.5h8.10M604.5 397.4v8.10M600.5 421.5h8.10M604.5 417.4v8.10M600.5 430.5h8.10M604.5 426.4v8.10M600.5 431.5h8.10M604.5 427.4v8.10M600.5 443.5h8.10M604.5 439.4v8.10M600.5 453.5h8.10M604.5 449.4v8.10M600.5 454.5h8.10M604.5 450.4v8.10M600.5 464.5h8.10M604.5 460.4v8.10M600.5 468.5h8.10M604.5 464.4v8.10M601.5 410.5h8.10M605.5 406.4v8.10M601.5 426.5h8.10M605.5 422.4v8.10M601.5 461.5h8.10M605.5 457.4v8.10M602.5 444.5h8.10M606.5 440.4v8.10M602.5 458.5h8.10M606.5 454.4v8.10M603.5 315.5h8.10M607.5 311.4v8.10M603.5 348.5h8.10M607.5 344.4v8.10M603.5 440.5h8.10M607.5 436.4v8.10M603.5 443.5h8.10M607.5 439.4v8.10M603.5 444.5h8.10M607.5 440.4v8.10M603.5 457.5h8.10M607.5 453.4v8.10M603.5 459.5h8.10M607.5 455.4v8.10M603.5 462.5h8.10M607.5 458.4v8.10M603.5 464.5h8.10M607.5 460.4v8.10M604.5 444.5h8.10M608.5 440.4v8.10M604.5 451.5h8.10M608.5 447.4v8.10M605.5 429.5h8.10M609.5 425.4v8.10M605.5 437.5h8.10M609.5 433.4v8.10M605.5 448.5h8.10M609.5 444.4v8.10M605.5 463.5h8.10M609.5 459.4v8.10M605.5 475.5h8.10M609.5 471.4v8.10M606.5 457.5h8.10M610.5 453.4v8.10M606.5 458.5h8.10M610.5 454.4v8.10M607.5 430.5h8.10M611.5 426.4v8.10M607.5 439.5h8.10M611.5 435.4v8.10M607.5 445.5h8.10M611.5 441.4v8.10M607.5 449.5h8.10M611.5 445.4v8.10M607.5 454.5h8.10M611.5 450.4v8.10M608.5 344.5h8.10M612.5 340.4v8.10M608.5 404.5h8.10M612.5 400.4v8.10M608.5 413.5h8.10M612.5 409.4v8.10M608.5 443.5h8.10M612.5 439.4v8.10M608.5 444.5h8.10M612.5 440.4v8.10M608.5 459.5h8.10M612.5 455.4v8.10M608.5 460.5h8.10M612.5 456.4v8.10M609.5 442.5h8.10M613.5 438.4v8.10M609.5 446.5h8.10M613.5 442.4v8.10M609.5 449.5h8.10M613.5 445.4v8.10M609.5 462.5h8.10M613.5 458.4v8.10M609.5 464.5h8.10M613.5 460.4v8.10M610.5 424.5h8.10M614.5 420.4v8.10M610.5 436.5h8.10M614.5 432.4v8.10M610.5 442.5h8.10M614.5 438.4v8.10M610.5 444.5h8.10M614.5 440.4v8.10M610.5 447.5h8.10M614.5 443.4v8.10M610.5 454.5h8.10M614.5 450.4v8.10M610.5 464.5h8.10M614.5 460.4v8.10M611.5 428.5h8.10M615.5 424.4v8.10M611.5 459.5h8.10M615.5 455.4v8.10M612.5 460.5h8.10M616.5 456.4v8.10M614.5 252.5h8.10M618.5 248.4v8.10M614.5 323.5h8.10M618.5 319.4v8.10M614.5 430.5h8.10M618.5 426.4v8.10M614.5 451.5h8.10M618.5 447.4v8.10M614.5 459.5h8.10M618.5 455.4v8.10M614.5 461.5h8.10M618.5 457.4v8.10M615.5 379.5h8.10M619.5 375.4v8.10M615.5 427.5h8.10M619.5 423.4v8.10M615.5 440.5h8.10M619.5 436.4v8.10M615.5 451.5h8.10M619.5 447.4v8.10M615.5 453.5h8.10M619.5 449.4v8.10M615.5 456.5h8.10M619.5 452.4v8.10M616.5 431.5h8.10M620.5 427.4v8.10M616.5 434.5h8.10M620.5 430.4v8.10M616.5 442.5h8.10M620.5 438.4v8.10M616.5 443.5h8.10M620.5 439.4v8.10M616.5 446.5h8.10M620.5 442.4v8.10M616.5 453.5h8.10M620.5 449.4v8.10M616.5 467.5h8.10M620.5 463.4v8.10M617.5 418.5h8.10M621.5 414.4v8.10M617.5 440.5h8.10M621.5 436.4v8.10M618.5 402.5h8.10M622.5 398.4v8.10M618.5 427.5h8.10M622.5 423.4v8.10M618.5 436.5h8.10M622.5 432.4v8.10M618.5 458.5h8.10M622.5 454.4v8.10M619.5 449.5h8.10M623.5 445.4v8.10M619.5 450.5h8.10M623.5 446.4v8.10M619.5 457.5h8.10M623.5 453.4v8.10M620.5 437.5h8.10M624.5 433.4v8.10M620.5 456.5h8.10M624.5 452.4v8.10M620.5 457.5h8.10M624.5 453.4v8.10M621.5 411.5h8.10M625.5 407.4v8.10M621.5 433.5h8.10M625.5 429.4v8.10M621.5 436.5h8.10M625.5 432.4v8.10M621.5 460.5h8.10M625.5 456.4v8.10M622.5 441.5h8.10M626.5 437.4v8.10M622.5 444.5h8.10M626.5 440.4v8.10M622.5 446.5h8.10M626.5 442.4v8.10M622.5 457.5h8.10M626.5 453.4v8.10M622.5 469.5h8.10M626.5 465.4v8.10M623.5 442.5h8.10M627.5 438.4v8.10M623.5 457.5h8.10M627.5 453.4v8.10M623.5 461.5h8.10M627.5 457.4v8.10M623.5 462.5h8.10M627.5 458.4v8.10M624.5 421.5h8.10M628.5 417.4v8.10M624.5 424.5h8.10M628.5 420.4v8.10M624.5 453.5h8.10M628.5 449.4v8.10M624.5 457.5h8.10M628.5 453.4v8.10M625.5 448.5h8.10M629.5 444.4v8.10M625.5 460.5h8.10M629.5 456.4v8.10M625.5 465.5h8.10M629.5 461.4v8.10M626.5 447.5h8.10M630.5 443.4v8.10M626.5 453.5h8.10M630.5 449.4v8.10M626.5 455.5h8.10M630.5 451.4v8.10M626.5 463.5h8.10M630.5 459.4v8.10M627.5 402.5h8.10M631.5 398.4v8.10M627.5 466.5h8.10M631.5 462.4v8.10M628.5 453.5h8.10M632.5 449.4v8.10M628.5 463.5h8.10M632.5 459.4v8.10M629.5 446.5h8.10M633.5 442.4v8.10M630.5 415.5h8.10M634.5 411.4v8.10M631.5 366.5h8.10M635.5 362.4v8.10M631.5 444.5h8.10M635.5 440.4v8.10M631.5 448.5h8.10M635.5 444.4v8.10M631.5 458.5h8.10M635.5 454.4v8.10M633.5 434.5h8.10M637.5 430.4v8.10M633.5 462.5h8.10M637.5 458.4v8.10M634.5 469.5h8.10M638.5 465.4v8.10M635.5 441.5h8.10M639.5 437.4v8.10M635.5 457.5h8.10M639.5 453.4v8.10M636.5 428.5h8.10M640.5 424.4v8.10M636.5 435.5h8.10M640.5 431.4v8.10M636.5 454.5h8.10M640.5 450.4v8.10M636.5 456.5h8.10M640.5 452.4v8.10M636.5 461.5h8.10M640.5 457.4v8.10M636.5 462.5h8.10M640.5 458.4v8.10M637.5 449.5h8.10M641.5 445.4v8.10M637.5 463.5h8.10M641.5 459.4v8.10M637.5 465.5h8.10M641.5 461.4v8.10M638.5 439.5h8.10M642.5 435.4v8.10M638.5 460.5h8.10M642.5 456.4v8.10M638.5 467.5h8.10M642.5 463.4v8.10M639.5 462.5h8.10M643.5 458.4v8.10M640.5 444.5h8.10M644.5 440.4v8.10M641.5 416.5h8.10M645.5 412.4v8.10M641.5 465.5h8.10M645.5 461.4v8.10M642.5 461.5h8.10M646.5 457.4v8.10M643.5 432.5h8.10M647.5 428.4v8.10M644.5 463.5h8.10M648.5 459.4v8.10M645.5 352.5h8.10M649.5 348.4v8.10M645.5 393.5h8.10M649.5 389.4v8.10M645.5 435.5h8.10M649.5 431.4v8.10M645.5 455.5h8.10M649.5 451.4v8.10M646.5 447.5h8.10M650.5 443.4v8.10M646.5 449.5h8.10M650.5 445.4v8.10M646.5 451.5h8.10M650.5 447.4v8.10M647.5 433.5h8.10M651.5 429.4v8.10M647.5 453.5h8.10M651.5 449.4v8.10M648.5 468.5h8.10M652.5 464.4v8.10M649.5 440.5h8.10M653.5 436.4v8.10M651.5 467.5h8.10M655.5 463.4v8.10M652.5 426.5h8.10M656.5 422.4v8.10M652.5 441.5h8.10M656.5 437.4v8.10M653.5 460.5h8.10M657.5 456.4v8.10M655.5 412.5h8.10M659.5 408.4v8.10M657.5 430.5h8.10M661.5 426.4v8.10M658.5 431.5h8.10M662.5 427.4v8.10M659.5 462.5h8.10M663.5 458.4v8.10M659.5 466.5h8.10M663.5 462.4v8.10M660.5 459.5h8.10M664.5 455.4v8.10M661.5 452.5h8.10M665.5 448.4v8.10M661.5 454.5h8.10M665.5 450.4v8.10M662.5 455.5h8.10M666.5 451.4v8.10M662.5 461.5h8.10M666.5 457.4v8.10M665.5 424.5h8.10M669.5 420.4v8.10M665.5 465.5h8.10M669.5 461.4v8.10M666.5 440.5h8.10M670.5 436.4v8.10M670.5 439.5h8.10M674.5 435.4v8.10M675.5 440.5h8.10M679.5 436.4v8.10M677.5 441.5h8.10M681.5 437.4v8.10M677.5 465.5h8.10M681.5 461.4v8.10M678.5 442.5h8.10M682.5 438.4v8.10M680.5 451.5h8.10M684.5 447.4v8.10M680.5 456.5h8.10M684.5 452.4v8.10M681.5 431.5h8.10M685.5 427.4v8.10M681.5 459.5h8.10M685.5 455.4v8.10M683.5 449.5h8.10M687.5 445.4v8.10M683.5 475.5h8.10M687.5 471.4v8.10M685.5 466.5h8.10M689.5 462.4v8.10M687.5 419.5h8.10M691.5 415.4v8.10M689.5 447.5h8.10M693.5 443.4v8.10M691.5 439.5h8.10M695.5 435.4v8.10M691.5 469.5h8.10M695.5 465.4v8.10M693.5 425.5h8.10M697.5 421.4v8.10M694.5 453.5h8.10M698.5 449.4v8.10M702.5 438.5h8.10M706.5 434.4v8.10M702.5 453.5h8.10M706.5 449.4v8.10M712.5 474.5h8.10M716.5 470.4v8.10M713.5 442.5h8.10M717.5 438.4v8.10"/>
<path class="b" d="M312.4 455.4l8.10 8.10M312.4 463.6l8.10 -8.10M313.4 454.4l8.10 8.10M313.4 462.6l8.10 -8.10M314.4 454.4l8.10 8.10M314.4 462.6l8.10 -8.10M314.4 455.4l8.10 8.10M314.4 463.6l8.10 -8.10M315.4 455.4l8.10 8.10M315.4 463.6l8.10 -8.10M315.4 456.4l8.10 8.10M315.4 464.6l8.10 -8.10M316.4 454.4l8.10 8.10M316.4 462.6l8.10 -8.10M317.4 455.4l8.10 8.10M317.4 463.6l8.10 -8.10M318.4 454.4l8.10 8.10M318.4 462.6l8.10 -8.10M318.4 455.4l8.10 8.10M318.4 463.6l8.10 -8.10M319.4 454.4l8.10 8.10M319.4 462.6l8.10 -8.10M319.4 455.4l8.10 8.10M319.4 463.6l8.10 -8.10M320.4 455.4l8.10 8.10M320.4 463.6l8.10 -8.10M320.4 456.4l8.10 8.10M320.4 464.6l8.10 -8.10M321.4 454.4l8.10 8.10M321.4 462.6l8.10 -8.10M322.4 455.4l8.10 8.10M322.4 463.6l8.10 -8.10M323.4 454.4l8.10 8.10M323.4 462.6l8.10 -8.10M323.4 456.4l8.10 8.10M323.4 464.6l8.10 -8.10M324.4 454.4l8.10 8.10M324.4 462.6l8.10 -8.10M324.4 455.4l8.10 8.10M324.4 463.6l8.10 -8.10M325.4 454.4l8.10 8.10M325.4 462.6l8.10 -8.10M325.4 455.4l8.10 8.10M325.4 463.6l8.10 -8.10M326.4 454.4l8.10 8.10M326.4 462.6l8.10 -8.10M327.4 455.4l8.10 8.10M327.4 463.6l8.10 -8.10M327.4 456.4l8.10 8.10M327.4 464.6l8.10 -8.10M328.4 454.4l8.10 8.10M328.4 462.6l8.10 -8.10M328.4 456.4l8.10 8.10M328.4 464.6l8.10 -8.10M329.4 454.4l8.10 8.10M329.4 462.6l8.10 -8.10M329.4 455.4l8.10 8.10M329.4 463.6l8.10 -8.10M330.4 455.4l8.10 8.10M330.4 463.6l8.10 -8.10M331.4 455.4l8.10 8.10M331.4 463.6l8.10 -8.10M332.4 454.4l8.10 8.10M332.4 462.6l8.10 -8.10M333.4 454.4l8.10 8.10M333.4 462.6l8.10 -8.10M333.4 455.4l8.10 8.10M333.4 463.6l8.10 -8.10M334.4 455.4l8.10 8.10M334.4 463.6l8.10 -8.10M335.4 455.4l8.10 8.10M335.4 463.6l8.10 -8.10M336.4 455.4l8.10 8.10M336.4 463.6l8.10 -8.10M337.4 455.4l8.10 8.10M337.4 463.6l8.10 -8.10M338.4 455.4l8.10 8.10M338.4 463.6l8.10 -8.10M339.4 455.4l8.10 8.10M339.4 463.6l8.10 -8.10M339.4 456.4l8.10 8.10M339.4 464.6l8.10 -8.10M340.4 454.4l8.10 8.10M340.4 462.6l8.10 -8.10M340.4 455.4l8.10 8.10M340.4 463.6l8.10 -8.10M341.4 455.4l8.10 8.10M341.4 463.6l8.10 -8.10M342.4 455.4l8.10 8.10M342.4 463.6l8.10 -8.10M343.4 454.4l8.10 8.10M343.4 462.6l8.10 -8.10M343.4 455.4l8.10 8.10M343.4 463.6l8.10 -8.10M344.4 454.4l8.10 8.10M344.4 462.6l8.10 -8.10M345.4 454.4l8.10 8.10M345.4 462.6l8.10 -8.10M345.4 455.4l8.10 8.10M345.4 463.6l8.10 -8.10M346.4 454.4l8.10 8.10M346.4 462.6l8.10 -8.10M346.4 456.4l8.10 8.10M346.4 464.6l8.10 -8.10M347.4 454.4l8.10 8.10M347.4 462.6l8.10 -8.10M347.4 455.4l8.10 8.10M347.4 463.6l8.10 -8.10M348.4 455.4l8.10 8.10M348.4 463.6l8.10 -8.10M349.4 455.4l8.10 8.10M349.4 463.6l8.10 -8.10M350.4 454.4l8.10 8.10M350.4 462.6l8.10 -8.10M350.4 455.4l8.10 8.10M350.4 463.6l8.10 -8.10M351.4 455.4l8.10 8.10M351.4 463.6l8.10 -8.10M352.4 454.4l8.10 8.10M352.4 462.6l8.10 -8.10M352.4 455.4l8.10 8.10M352.4 463.6l8.10 -8.10M353.4 455.4l8.10 8.10M353.4 463.6l8.10 -8.10M353.4 456.4l8.10 8.10M353.4 464.6l8.10 -8.10M354.4 455.4l8.10 8.10M354.4 463.6l8.10 -8.10M355.4 455.4l8.10 8.10M355.4 463.6l8.10 -8.10M356.4 454.4l8.10 8.10M356.4 462.6l8.10 -8.10M356.4 456.4l8.10 8.10M356.4 464.6l8.10 -8.10M357.4 455.4l8.10 8.10M357.4 463.6l8.10 -8.10M358.4 454.4l8.10 8.10M358.4 462.6l8.10 -8.10M358.4 455.4l8.10 8.10M358.4 463.6l8.10 -8.10M359.4 455.4l8.10 8.10M359.4 463.6l8.10 -8.10M360.4 454.4l8.10 8.10M360.4 462.6l8.10 -8.10M360.4 455.4l8.10 8.10M360.4 463.6l8.10 -8.10M361.4 454.4l8.10 8.10M361.4 462.6l8.10 -8.10M362.4 455.4l8.10 8.10M362.4 463.6l8.10 -8.10M363.4 455.4l8.10 8.10M363.4 463.6l8.10 -8.10M364.4 455.4l8.10 8.10M364.4 463.6l8.10 -8.10M365.4 455.4l8.10 8.10M365.4 463.6l8.10 -8.10M366.4 454.4l8.10 8.10M366.4 462.6l8.10 -8.10M366.4 455.4l8.10 8.10M366.4 463.6l8.10 -8.10M367.4 455.4l8.10 8.10M367.4 463.6l8.10 -8.10M368.4 455.4l8.10 8.10M368.4 463.6l8.10 -8.10M369.4 454.4l8.10 8.10M369.4 462.6l8.10 -8.10M369.4 456.4l8.10 8.10M369.4 464.6l8.10 -8.10M370.4 455.4l8.10 8.10M370.4 463.6l8.10 -8.10M371.4 454.4l8.10 8.10M371.4 462.6l8.10 -8.10M371.4 455.4l8.10 8.10M371.4 463.6l8.10 -8.10M372.4 455.4l8.10 8.10M372.4 463.6l8.10 -8.10M373.4 455.4l8.10 8.10M373.4 463.6l8.10 -8.10M373.4 456.4l8.10 8.10M373.4 464.6l8.10 -8.10M374.4 456.4l8.10 8.10M374.4 464.6l8.10 -8.10M375.4 455.4l8.10 8.10M375.4 463.6l8.10 -8.10M376.4 454.4l8.10 8.10M376.4 462.6l8.10 -8.10M377.4 446.4l8.10 8.10M377.4 454.6l8.10 -8.10M377.4 452.4l8.10 8.10M377.4 460.6l8.10 -8.10M377.4 454.4l8.10 8.10M377.4 462.6l8.10 -8.10M378.4 455.4l8.10 8.10M378.4 463.6l8.10 -8.10M379.4 454.4l8.10 8.10M379.4 462.6l8.10 -8.10M379.4 455.4l8.10 8.10M379.4 463.6l8.10 -8.10M380.4 454.4l8.10 8.10M380.4 462.6l8.10 -8.10M381.4 454.4l8.10 8.10M381.4 462.6l8.10 -8.10M382.4 454.4l8.10 8.10M382.4 462.6l8.10 -8.10M383.4 453.4l8.10 8.10M383.4 461.6l8.10 -8.10M384.4 455.4l8.10 8.10M384.4 463.6l8.10 -8.10M385.4 454.4l8.10 8.10M385.4 462.6l8.10 -8.10M386.4 453.4l8.10 8.10M386.4 461.6l8.10 -8.10M386.4 455.4l8.10 8.10M386.4 463.6l8.10 -8.10M387.4 287.4l8.10 8.10M387.4 295.6l8.10 -8.10M387.4 454.4l8.10 8.10M387.4 462.6l8.10 -8.10M388.4 452.4l8.10 8.10M388.4 460.6l8.10 -8.10M388.4 454.4l8.10 8.10M388.4 462.6l8.10 -8.10M389.4 455.4l8.10 8.10M389.4 463.6l8.10 -8.10M390.4 353.4l8.10 8.10M390.4 361.6l8.10 -8.10M390.4 355.4l8.10 8.10M390.4 363.6l8.10 -8.10M390.4 455.4l8.10 8.10M390.4 463.6l8.10 -8.10M391.4 453.4l8.10 8.10M391.4 461.6l8.10 -8.10M391.4 455.4l8.10 8.10M391.4 463.6l8.10 -8.10M392.4 453.4l8.10 8.10M392.4 461.6l8.10 -8.10M392.4 455.4l8.10 8.10M392.4 463.6l8.10 -8.10M393.4 452.4l8.10 8.10M393.4 460.6l8.10 -8.10M394.4 452.4l8.10 8.10M394.4 460.6l8.10 -8.10M394.4 453.4l8.10 8.10M394.4 461.6l8.10 -8.10M395.4 446.4l8.10 8.10M395.4 454.6l8.10 -8.10M395.4 452.4l8.10 8.10M395.4 460.6l8.10 -8.10M395.4 455.4l8.10 8.10M395.4 463.6l8.10 -8.10M396.4 454.4l8.10 8.10M396.4 462.6l8.10 -8.10M397.4 453.4l8.10 8.10M397.4 461.6l8.10 -8.10M397.4 454.4l8.10 8.10M397.4 462.6l8.10 -8.10M398.4 452.4l8.10 8.10M398.4 460.6l8.10 -8.10M398.4 455.4l8.10 8.10M398.4 463.6l8.10 -8.10M399.4 453.4l8.10 8.10M399.4 461.6l8.10 -8.10M399.4 454.4l8.10 8.10M399.4 462.6l8.10 -8.10M400.4 454.4l8.10 8.10M400.4 462.6l8.10 -8.10M401.4 454.4l8.10 8.10M401.4 462.6l8.10 -8.10M401.4 455.4l8.10 8.10M401.4 463.6l8.10 -8.10M402.4 399.4l8.10 8.10M402.4 407.6l8.10 -8.10M402.4 455.4l8.10 8.10M402.4 463.6l8.10 -8.10M403.4 454.4l8.10 8.10M403.4 462.6l8.10 -8.10M403.4 455.4l8.10 8.10M403.4 463.6l8.10 -8.10M404.4 455.4l8.10 8.10M404.4 463.6l8.10 -8.10M405.4 454.4l8.10 8.10M405.4 462.6l8.10 -8.10M405.4 455.4l8.10 8.10M405.4 463.6l8.10 -8.10M406.4 452.4l8.10 8.10M406.4 460.6l8.10 -8.10M406.4 453.4l8.10 8.10M406.4 461.6l8.10 -8.10M407.4 285.4l8.10 8.10M407.4 293.6l8.10 -8.10M407.4 455.4l8.10 8.10M407.4 463.6l8.10 -8.10M408.4 452.4l8.10 8.10M408.4 460.6l8.10 -8.10M408.4 453.4l8.10 8.10M408.4 461.6l8.10 -8.10M409.4 452.4l8.10 8.10M409.4 460.6l8.10 -8.10M409.4 454.4l8.10 8.10M409.4 462.6l8.10 -8.10M410.4 453.4l8.10 8.10M410.4 461.6l8.10 -8.10M411.4 453.4l8.10 8.10M411.4 461.6l8.10 -8.10M411.4 454.4l8.10 8.10M411.4 462.6l8.10 -8.10M412.4 378.4l8.10 8.10M412.4 386.6l8.10 -8.10M412.4 455.4l8.10 8.10M412.4 463.6l8.10 -8.10M413.4 453.4l8.10 8.10M413.4 461.6l8.10 -8.10M413.4 460.4l8.10 8.10M413.4 468.6l8.10 -8.10M414.4 454.4l8.10 8.10M414.4 462.6l8.10 -8.10M414.4 455.4l8.10 8.10M414.4 463.6l8.10 -8.10M415.4 454.4l8.10 8.10M415.4 462.6l8.10 -8.10M416.4 453.4l8.10 8.10M416.4 461.6l8.10 -8.10M416.4 454.4l8.10 8.10M416.4 462.6l8.10 -8.10M417.4 379.4l8.10 8.10M417.4 387.6l8.10 -8.10M417.4 454.4l8.10 8.10M417.4 462.6l8.10 -8.10M418.4 454.4l8.10 8.10M418.4 462.6l8.10 -8.10M419.4 453.4l8.10 8.10M419.4 461.6l8.10 -8.10M420.4 454.4l8.10 8.10M420.4 462.6l8.10 -8.10M421.4 389.4l8.10 8.10M421.4 397.6l8.10 -8.10M421.4 455.4l8.10 8.10M421.4 463.6l8.10 -8.10M422.4 314.4l8.10 8.10M422.4 322.6l8.10 -8.10M422.4 452.4l8.10 8.10M422.4 460.6l8.10 -8.10M422.4 455.4l8.10 8.10M422.4 463.6l8.10 -8.10M423.4 455.4l8.10 8.10M423.4 463.6l8.10 -8.10M424.4 454.4l8.10 8.10M424.4 462.6l8.10 -8.10M425.4 455.4l8.10 8.10M425.4 463.6l8.10 -8.10M426.4 453.4l8.10 8.10M426.4 461.6l8.10 -8.10M426.4 454.4l8.10 8.10M426.4 462.6l8.10 -8.10"/>
<g class="k">
<circle cx="324.5" cy="459.5" r="4.1"/>
<circle cx="327.5" cy="459.5" r="4.1"/>
<circle cx="329.5" cy="459.5" r="4.1"/>
<circle cx="331.5" cy="459.5" r="4.1"/>
<circle cx="333.5" cy="459.5" r="4.1"/>
<circle cx="334.5" cy="459.5" r="4.1"/>
<circle cx="337.5" cy="459.5" r="4.1"/>
<circle cx="340.5" cy="459.5" r="4.1"/>
<circle cx="342.5" cy="459.5" r="4.1"/>
<circle cx="344.5" cy="459.5" r="4.1"/>
<circle cx="346.5" cy="459.5" r="4.1"/>
<circle cx="348.5" cy="459.5" r="4.1"/>
<circle cx="350.5" cy="459.5" r="4.1"/>
<circle cx="352.5" cy="459.5" r="4.1"/>
<circle cx="354.5" cy="459.5" r="4.1"/>
<circle cx="356.5" cy="459.5" r="4.1"/>
<circle cx="358.5" cy="459.5" r="4.1"/>
<circle cx="359.5" cy="459.5" r="4.1"/>
<circle cx="362.5" cy="459.5" r="4.1"/>
<circle cx="364.5" cy="459.5" r="4.1"/>
<circle cx="366.5" cy="459.5" r="4.1"/>
<circle cx="368.5" cy="459.5" r="4.1"/>
<circle cx="370.5" cy="459.5" r="4.1"/>
<circle cx="372.5" cy="459.5" r="4.1"/>
<circle cx="373.5" cy="459.5" r="4.1"/>
<circle cx="374.5" cy="459.5" r="4.1"/>
<circle cx="376.5" cy="459.5" r="4.1"/>
<circle cx="378.5" cy="459.5" r="4.1"/>
<circle cx="326.5" cy="460.5" r="4.1"/>
<circle cx="327.5" cy="460.5" r="4.1"/>
<circle cx="364.5" cy="461.5" r="4.1"/>
<circle cx="363.5" cy="460.5" r="4.1"/>
<circle cx="393.5" cy="464.5" r="4.1"/>
</g>
<path d="M100 459.5H720" stroke="#0000ff" stroke-width="1.39" stroke-dasharray="8.33 8.33" fill="none"/>
</g>
<rect x="100.5" y="60.5" width="620" height="480" fill="none" stroke="#000" stroke-width="1.39"/>
<text class="t" transform="translate(100.50 560.00) scale(0.950 1.090)" text-anchor="middle">−20</text>
<text class="t" transform="translate(183.17 560.00) scale(0.950 1.090)" text-anchor="middle">−18</text>
<text class="t" transform="translate(265.83 560.00) scale(0.950 1.090)" text-anchor="middle">−16</text>
<text class="t" transform="translate(348.50 560.00) scale(0.950 1.090)" text-anchor="middle">−14</text>
<text class="t" transform="translate(431.17 560.00) scale(0.950 1.090)" text-anchor="middle">−12</text>
<text class="t" transform="translate(513.83 560.00) scale(0.950 1.090)" text-anchor="middle">−10</text>
<text class="t" transform="translate(596.50 560.00) scale(0.950 1.090)" text-anchor="middle">−8</text>
<text class="t" transform="translate(679.17 560.00) scale(0.950 1.090)" text-anchor="middle">−6</text>
<text class="t" transform="translate(132.97 50.00) scale(0.950 1.090)" text-anchor="middle">14</text>
<text class="t" transform="translate(215.63 50.00) scale(0.950 1.090)" text-anchor="middle">16</text>
<text class="t" transform="translate(298.30 50.00) scale(0.950 1.090)" text-anchor="middle">18</text>
<text class="t" transform="translate(380.97 50.00) scale(0.950 1.090)" text-anchor="middle">20</text>
<text class="t" transform="translate(463.63 50.00) scale(0.950 1.090)" text-anchor="middle">22</text>
<text class="t" transform="translate(546.30 50.00) scale(0.950 1.090)" text-anchor="middle">24</text>
<text class="t" transform="translate(628.97 50.00) scale(0.950 1.090)" text-anchor="middle">26</text>
<text class="t" transform="translate(711.63 50.00) scale(0.950 1.090)" text-anchor="middle">28</text>
<text class="t" transform="translate(95.20 545.20) scale(0.950 1.090)" text-anchor="end">0</text>
<text class="t" transform="translate(95.20 425.20) scale(0.950 1.090)" text-anchor="end">5</text>
<text class="t" transform="translate(95.20 305.20) scale(0.950 1.090)" text-anchor="end">10</text>
<text class="t" transform="translate(95.20 185.20) scale(0.950 1.090)" text-anchor="end">15</text>
<text class="t" transform="translate(95.20 65.20) scale(0.950 1.090)" text-anchor="end">20</text>
<path class="tk" d="M100.5 540v-5.5M183.5 540v-5.5M265.5 540v-5.5M348.5 540v-5.5M431.5 540v-5.5M513.5 540v-5.5M596.5 540v-5.5M679.5 540v-5.5M134.5 61v5.5M216.5 61v5.5M299.5 61v5.5M382.5 61v5.5M464.5 61v5.5M547.5 61v5.5M630.5 61v5.5M712.5 61v5.5M101 540.5h5.5M720 540.5h-5.5M101 420.5h5.5M720 420.5h-5.5M101 300.5h5.5M720 300.5h-5.5M101 180.5h5.5M720 180.5h-5.5M101 60.5h5.5M720 60.5h-5.5"/>
<text class="l" transform="translate(410.50 28.50)" text-anchor="middle">FWHM vs magnitudes</text>
<text class="t" transform="translate(410.80 583.40) scale(0.995 1.100)" text-anchor="middle">magnitude (bottom:isnt / top:calib)</text>
<text class="t" transform="translate(64.00 299.50) rotate(-90) scale(1.000 1.100)" text-anchor="middle">FWHM (pix)</text>
<rect x="398.5" y="70.5" width="312" height="122" fill="#fff" stroke="#000" stroke-width="1.39"/>
<path class="c" d="M408.4 86.5h8.10M412.5 82.5v8.10M436.4 86.5h8.10M440.5 82.5v8.10"/>
<path class="b" d="M408.4 111.5l8.10 8.10M408.4 119.5l8.10 -8.10M436.4 111.5l8.10 8.10M436.4 119.5l8.10 -8.10"/>
<g class="k"><circle cx="412.5" cy="144.5" r="4.1"/><circle cx="440.5" cy="144.5" r="4.1"/></g>
<path d="M412.3 173.5H440.5" stroke="#0000ff" stroke-width="1.39" stroke-dasharray="8.33 8.33" fill="none"/>
<text class="l" transform="translate(462.00 93.20) scale(1.004 1.000)">all sample</text>
<text class="l" transform="translate(462.00 122.30) scale(1.004 1.000)">sample for rough FWHM</text>
<text class="l" transform="translate(462.00 151.30) scale(1.004 1.000)">coarse PSF-like sample</text>
<text class="l" transform="translate(462.00 180.40) scale(1.004 1.000)">tentative FWHM</text>
</svg></body></html>
